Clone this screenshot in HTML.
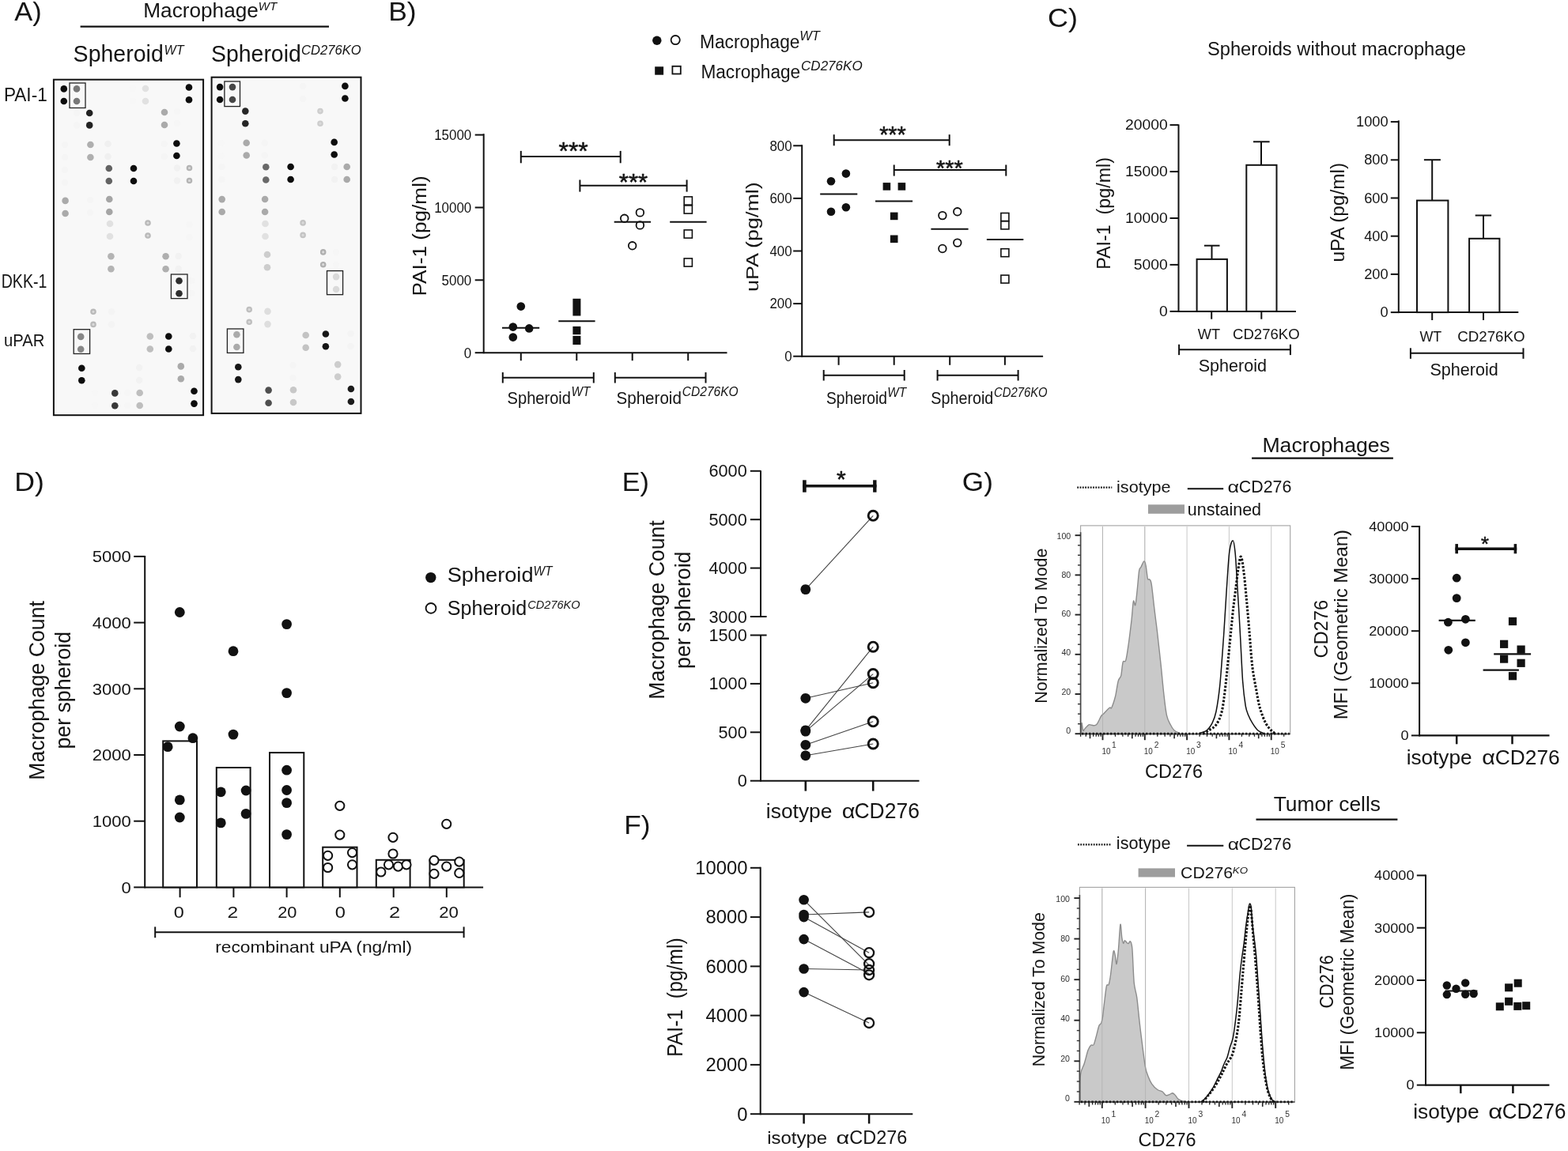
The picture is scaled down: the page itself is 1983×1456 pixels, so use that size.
<!DOCTYPE html>
<html><head><meta charset="utf-8"><title>Figure</title>
<style>
html,body{margin:0;padding:0;background:#fff;width:1983px;height:1456px;overflow:hidden}
svg{display:block}
text{font-family:'Liberation Sans', Arial, sans-serif}
</style></head>
<body>
<svg width="1983" height="1456" viewBox="0 0 1983 1456">
<defs><filter id="soft" x="-5%" y="-5%" width="110%" height="110%"><feGaussianBlur stdDeviation="0.7"/></filter></defs>
<rect width="1983" height="1456" fill="#fff"/>
<text x="18.23" y="26.00" font-size="33.5" textLength="34.40" lengthAdjust="spacingAndGlyphs" fill="#141414">A)</text>
<text x="181.25" y="21.60" font-size="25.7" textLength="145.61" lengthAdjust="spacingAndGlyphs" fill="#141414">Macrophage</text>
<text x="326.80" y="12.50" font-size="14.5" font-style="italic" textLength="23.41" lengthAdjust="spacingAndGlyphs" fill="#141414">WT</text>
<line x1="101.6" y1="33.6" x2="416.0" y2="33.6" stroke="#111" stroke-width="2.3"/>
<text x="92.61" y="78.10" font-size="29.2" textLength="114.13" lengthAdjust="spacingAndGlyphs" fill="#141414">Spheroid</text>
<text x="207.51" y="68.80" font-size="16.5" font-style="italic" textLength="25.04" lengthAdjust="spacingAndGlyphs" fill="#141414">WT</text>
<text x="267.01" y="78.10" font-size="29.2" textLength="113.82" lengthAdjust="spacingAndGlyphs" fill="#141414">Spheroid</text>
<text x="381.09" y="69.00" font-size="16.9" font-style="italic" textLength="75.58" lengthAdjust="spacingAndGlyphs" fill="#141414">CD276KO</text>
<text x="4.90" y="128.40" font-size="23.5" textLength="54.87" lengthAdjust="spacingAndGlyphs" fill="#141414">PAI-1</text>
<text x="1.69" y="363.60" font-size="23" textLength="57.66" lengthAdjust="spacingAndGlyphs" fill="#141414">DKK-1</text>
<text x="4.92" y="437.60" font-size="22.8" textLength="51.39" lengthAdjust="spacingAndGlyphs" fill="#141414">uPAR</text>
<rect x="67.9" y="100.7" width="189.2" height="424.5" fill="#f8f8f8" stroke="#111" stroke-width="2"/>
<rect x="267.6" y="97.7" width="188.9" height="425.2" fill="#f8f8f8" stroke="#111" stroke-width="2"/>
<g filter="url(#soft)">
<circle cx="80.8" cy="112.4" r="4.3" fill="rgb(10,10,10)"/>
<circle cx="80.8" cy="128" r="4.3" fill="rgb(10,10,10)"/>
<circle cx="97" cy="112.4" r="4.3" fill="rgb(120,120,120)"/>
<circle cx="97" cy="128" r="4.3" fill="rgb(120,120,120)"/>
<circle cx="97" cy="143" r="4.3" fill="rgb(245,245,245)"/>
<circle cx="97" cy="158.4" r="4.3" fill="rgb(245,245,245)"/>
<circle cx="113.2" cy="143" r="4.3" fill="rgb(35,35,35)"/>
<circle cx="113.2" cy="158.4" r="4.3" fill="rgb(35,35,35)"/>
<circle cx="168" cy="112" r="4.3" fill="rgb(247,247,247)"/>
<circle cx="168" cy="128" r="4.3" fill="rgb(247,247,247)"/>
<circle cx="184" cy="112" r="4.3" fill="rgb(225,225,225)"/>
<circle cx="184" cy="128" r="4.3" fill="rgb(225,225,225)"/>
<circle cx="239" cy="110.5" r="4.3" fill="rgb(8,8,8)"/>
<circle cx="239" cy="126.3" r="4.3" fill="rgb(8,8,8)"/>
<circle cx="208" cy="142" r="4.3" fill="rgb(170,170,170)"/>
<circle cx="208" cy="158" r="4.3" fill="rgb(170,170,170)"/>
<circle cx="224" cy="141" r="4.3" fill="rgb(246,246,246)"/>
<circle cx="224" cy="156" r="4.3" fill="rgb(246,246,246)"/>
<circle cx="82" cy="183" r="4.3" fill="rgb(245,245,245)"/>
<circle cx="82" cy="199" r="4.3" fill="rgb(245,245,245)"/>
<circle cx="114.4" cy="183" r="4.3" fill="rgb(175,175,175)"/>
<circle cx="114.4" cy="199" r="4.3" fill="rgb(175,175,175)"/>
<circle cx="136.5" cy="182" r="4.3" fill="rgb(240,240,240)"/>
<circle cx="136.5" cy="198" r="4.3" fill="rgb(240,240,240)"/>
<circle cx="207.7" cy="182" r="4.3" fill="rgb(245,245,245)"/>
<circle cx="207.7" cy="198" r="4.3" fill="rgb(245,245,245)"/>
<circle cx="223.4" cy="181.5" r="4.3" fill="rgb(10,10,10)"/>
<circle cx="223.4" cy="197" r="4.3" fill="rgb(10,10,10)"/>
<circle cx="82" cy="215" r="4.3" fill="rgb(245,245,245)"/>
<circle cx="82" cy="231" r="4.3" fill="rgb(245,245,245)"/>
<circle cx="137.8" cy="213" r="4.3" fill="rgb(100,100,100)"/>
<circle cx="137.8" cy="229" r="4.3" fill="rgb(100,100,100)"/>
<circle cx="169" cy="213" r="4.3" fill="rgb(8,8,8)"/>
<circle cx="169" cy="229" r="4.3" fill="rgb(8,8,8)"/>
<circle cx="224" cy="212.5" r="4.3" fill="rgb(241,241,241)"/>
<circle cx="224" cy="228.5" r="4.3" fill="rgb(241,241,241)"/>
<circle cx="239.5" cy="212.5" r="2.7" fill="#dadada" stroke="rgb(180,180,180)" stroke-width="2.2"/>
<circle cx="239.5" cy="228.5" r="2.7" fill="#dadada" stroke="rgb(180,180,180)" stroke-width="2.2"/>
<circle cx="82.6" cy="253.9" r="4.3" fill="rgb(170,170,170)"/>
<circle cx="82.6" cy="270" r="4.3" fill="rgb(170,170,170)"/>
<circle cx="114" cy="253" r="4.3" fill="rgb(245,245,245)"/>
<circle cx="114" cy="269" r="4.3" fill="rgb(245,245,245)"/>
<circle cx="138.3" cy="252" r="4.3" fill="rgb(165,165,165)"/>
<circle cx="138.3" cy="268" r="4.3" fill="rgb(165,165,165)"/>
<circle cx="139" cy="283" r="4.3" fill="rgb(225,225,225)"/>
<circle cx="139" cy="299" r="4.3" fill="rgb(225,225,225)"/>
<circle cx="187" cy="282" r="2.7" fill="#dadada" stroke="rgb(185,185,185)" stroke-width="2.2"/>
<circle cx="187" cy="298" r="2.7" fill="#dadada" stroke="rgb(185,185,185)" stroke-width="2.2"/>
<circle cx="239.5" cy="284" r="4.3" fill="rgb(246,246,246)"/>
<circle cx="239.5" cy="300" r="4.3" fill="rgb(246,246,246)"/>
<circle cx="140.4" cy="324.3" r="4.3" fill="rgb(180,180,180)"/>
<circle cx="140.4" cy="340.2" r="4.3" fill="rgb(180,180,180)"/>
<circle cx="209.6" cy="324.3" r="4.3" fill="rgb(175,175,175)"/>
<circle cx="209.6" cy="340.2" r="4.3" fill="rgb(175,175,175)"/>
<circle cx="225.7" cy="324" r="4.3" fill="rgb(242,242,242)"/>
<circle cx="225.7" cy="340" r="4.3" fill="rgb(242,242,242)"/>
<circle cx="226.5" cy="355.2" r="4.3" fill="rgb(45,45,45)"/>
<circle cx="226.5" cy="371.2" r="4.3" fill="rgb(45,45,45)"/>
<circle cx="242.4" cy="355" r="4.3" fill="rgb(246,246,246)"/>
<circle cx="242.4" cy="371" r="4.3" fill="rgb(246,246,246)"/>
<circle cx="118" cy="394.3" r="2.7" fill="#dadada" stroke="rgb(185,185,185)" stroke-width="2.2"/>
<circle cx="118" cy="410.4" r="2.7" fill="#dadada" stroke="rgb(185,185,185)" stroke-width="2.2"/>
<circle cx="141" cy="394.3" r="4.3" fill="rgb(244,244,244)"/>
<circle cx="141" cy="410.4" r="4.3" fill="rgb(244,244,244)"/>
<circle cx="102.2" cy="425.9" r="4.3" fill="rgb(135,135,135)"/>
<circle cx="102.2" cy="441.8" r="4.3" fill="rgb(135,135,135)"/>
<circle cx="189.8" cy="425.5" r="4.3" fill="rgb(190,190,190)"/>
<circle cx="189.8" cy="441.5" r="4.3" fill="rgb(190,190,190)"/>
<circle cx="213.3" cy="425.5" r="4.3" fill="rgb(12,12,12)"/>
<circle cx="213.3" cy="441.5" r="4.3" fill="rgb(12,12,12)"/>
<circle cx="244" cy="425" r="4.3" fill="rgb(242,242,242)"/>
<circle cx="244" cy="441" r="4.3" fill="rgb(242,242,242)"/>
<circle cx="103.3" cy="465.7" r="4.3" fill="rgb(10,10,10)"/>
<circle cx="103.3" cy="481.2" r="4.3" fill="rgb(10,10,10)"/>
<circle cx="228.8" cy="463.4" r="4.3" fill="rgb(170,170,170)"/>
<circle cx="228.8" cy="479.3" r="4.3" fill="rgb(170,170,170)"/>
<circle cx="176.2" cy="465" r="4.3" fill="rgb(242,242,242)"/>
<circle cx="176.2" cy="481" r="4.3" fill="rgb(242,242,242)"/>
<circle cx="145.3" cy="497.4" r="4.3" fill="rgb(55,55,55)"/>
<circle cx="145.3" cy="513.3" r="4.3" fill="rgb(55,55,55)"/>
<circle cx="176.7" cy="497" r="4.3" fill="rgb(190,190,190)"/>
<circle cx="176.7" cy="513" r="4.3" fill="rgb(190,190,190)"/>
<circle cx="245.5" cy="494.8" r="4.3" fill="rgb(8,8,8)"/>
<circle cx="245.5" cy="510.6" r="4.3" fill="rgb(8,8,8)"/>
<circle cx="161.2" cy="497" r="4.3" fill="rgb(246,246,246)"/>
<circle cx="161.2" cy="513" r="4.3" fill="rgb(246,246,246)"/>
<circle cx="120" cy="497" r="4.3" fill="rgb(247,247,247)"/>
<circle cx="120" cy="513" r="4.3" fill="rgb(247,247,247)"/>
<circle cx="278.1" cy="110.1" r="4.3" fill="rgb(10,10,10)"/>
<circle cx="278.1" cy="126" r="4.3" fill="rgb(10,10,10)"/>
<circle cx="294" cy="110.1" r="4.3" fill="rgb(70,70,70)"/>
<circle cx="294" cy="126" r="4.3" fill="rgb(70,70,70)"/>
<circle cx="310.3" cy="140.6" r="4.3" fill="rgb(40,40,40)"/>
<circle cx="310.3" cy="156.2" r="4.3" fill="rgb(40,40,40)"/>
<circle cx="383.1" cy="109" r="4.3" fill="rgb(245,245,245)"/>
<circle cx="383.1" cy="125" r="4.3" fill="rgb(245,245,245)"/>
<circle cx="436.4" cy="108.9" r="4.3" fill="rgb(10,10,10)"/>
<circle cx="436.4" cy="124.5" r="4.3" fill="rgb(10,10,10)"/>
<circle cx="405" cy="140.6" r="2.7" fill="#dadada" stroke="rgb(205,205,205)" stroke-width="2.2"/>
<circle cx="405" cy="156.2" r="2.7" fill="#dadada" stroke="rgb(205,205,205)" stroke-width="2.2"/>
<circle cx="311.7" cy="180.8" r="4.3" fill="rgb(170,170,170)"/>
<circle cx="311.7" cy="196.5" r="4.3" fill="rgb(170,170,170)"/>
<circle cx="334.8" cy="180.8" r="4.3" fill="rgb(245,245,245)"/>
<circle cx="334.8" cy="196.5" r="4.3" fill="rgb(245,245,245)"/>
<circle cx="279.6" cy="181" r="4.3" fill="rgb(247,247,247)"/>
<circle cx="279.6" cy="197" r="4.3" fill="rgb(247,247,247)"/>
<circle cx="422.7" cy="179.9" r="4.3" fill="rgb(10,10,10)"/>
<circle cx="422.7" cy="195.5" r="4.3" fill="rgb(10,10,10)"/>
<circle cx="336.3" cy="211.3" r="4.3" fill="rgb(105,105,105)"/>
<circle cx="336.3" cy="227.5" r="4.3" fill="rgb(105,105,105)"/>
<circle cx="367.6" cy="211" r="4.3" fill="rgb(8,8,8)"/>
<circle cx="367.6" cy="227" r="4.3" fill="rgb(8,8,8)"/>
<circle cx="423.1" cy="211" r="4.3" fill="rgb(242,242,242)"/>
<circle cx="423.1" cy="227" r="4.3" fill="rgb(242,242,242)"/>
<circle cx="438.7" cy="211" r="4.3" fill="rgb(170,170,170)"/>
<circle cx="438.7" cy="227" r="4.3" fill="rgb(170,170,170)"/>
<circle cx="280.4" cy="211" r="4.3" fill="rgb(245,245,245)"/>
<circle cx="280.4" cy="227" r="4.3" fill="rgb(245,245,245)"/>
<circle cx="280.7" cy="252.1" r="4.3" fill="rgb(170,170,170)"/>
<circle cx="280.7" cy="268" r="4.3" fill="rgb(170,170,170)"/>
<circle cx="335.1" cy="252" r="4.3" fill="rgb(170,170,170)"/>
<circle cx="335.1" cy="268" r="4.3" fill="rgb(170,170,170)"/>
<circle cx="335.5" cy="283" r="4.3" fill="rgb(225,225,225)"/>
<circle cx="335.5" cy="299" r="4.3" fill="rgb(225,225,225)"/>
<circle cx="383.1" cy="281.9" r="2.7" fill="#dadada" stroke="rgb(195,195,195)" stroke-width="2.2"/>
<circle cx="383.1" cy="297.4" r="2.7" fill="#dadada" stroke="rgb(195,195,195)" stroke-width="2.2"/>
<circle cx="338" cy="322" r="4.3" fill="rgb(205,205,205)"/>
<circle cx="338" cy="338.2" r="4.3" fill="rgb(205,205,205)"/>
<circle cx="408.7" cy="318.9" r="2.7" fill="#dadada" stroke="rgb(175,175,175)" stroke-width="2.2"/>
<circle cx="408.7" cy="334.7" r="2.7" fill="#dadada" stroke="rgb(175,175,175)" stroke-width="2.2"/>
<circle cx="425" cy="319" r="4.3" fill="rgb(246,246,246)"/>
<circle cx="425" cy="335" r="4.3" fill="rgb(246,246,246)"/>
<circle cx="425.1" cy="350.1" r="4.3" fill="rgb(218,218,218)"/>
<circle cx="425.1" cy="366" r="4.3" fill="rgb(218,218,218)"/>
<circle cx="315.2" cy="391.6" r="2.7" fill="#dadada" stroke="rgb(190,190,190)" stroke-width="2.2"/>
<circle cx="315.2" cy="407.3" r="2.7" fill="#dadada" stroke="rgb(190,190,190)" stroke-width="2.2"/>
<circle cx="338.5" cy="393.9" r="4.3" fill="rgb(222,222,222)"/>
<circle cx="338.5" cy="410.1" r="4.3" fill="rgb(222,222,222)"/>
<circle cx="299.4" cy="423.2" r="4.3" fill="rgb(170,170,170)"/>
<circle cx="299.4" cy="439" r="4.3" fill="rgb(170,170,170)"/>
<circle cx="386.7" cy="424" r="4.3" fill="rgb(195,195,195)"/>
<circle cx="386.7" cy="439.8" r="4.3" fill="rgb(195,195,195)"/>
<circle cx="411.9" cy="422.5" r="4.3" fill="rgb(25,25,25)"/>
<circle cx="411.9" cy="438.2" r="4.3" fill="rgb(25,25,25)"/>
<circle cx="443.5" cy="422" r="4.3" fill="rgb(244,244,244)"/>
<circle cx="443.5" cy="438" r="4.3" fill="rgb(244,244,244)"/>
<circle cx="301.3" cy="464.2" r="4.3" fill="rgb(25,25,25)"/>
<circle cx="301.3" cy="480.1" r="4.3" fill="rgb(25,25,25)"/>
<circle cx="370.5" cy="462" r="4.3" fill="rgb(245,245,245)"/>
<circle cx="370.5" cy="478" r="4.3" fill="rgb(245,245,245)"/>
<circle cx="427.2" cy="461.1" r="4.3" fill="rgb(205,205,205)"/>
<circle cx="427.2" cy="476.6" r="4.3" fill="rgb(205,205,205)"/>
<circle cx="339.6" cy="493.6" r="4.3" fill="rgb(80,80,80)"/>
<circle cx="339.6" cy="509.8" r="4.3" fill="rgb(80,80,80)"/>
<circle cx="371" cy="493.3" r="4.3" fill="rgb(200,200,200)"/>
<circle cx="371" cy="509" r="4.3" fill="rgb(200,200,200)"/>
<circle cx="443.9" cy="492" r="4.3" fill="rgb(30,30,30)"/>
<circle cx="443.9" cy="508" r="4.3" fill="rgb(30,30,30)"/>
</g>
<rect x="88.0" y="105.0" width="20.0" height="31.5" fill="none" stroke="#222" stroke-width="1.3"/>
<rect x="216.4" y="347.0" width="20.6" height="30.6" fill="none" stroke="#222" stroke-width="1.3"/>
<rect x="93.2" y="416.7" width="20.4" height="30.8" fill="none" stroke="#222" stroke-width="1.3"/>
<rect x="283.9" y="103.0" width="19.6" height="31.6" fill="none" stroke="#222" stroke-width="1.3"/>
<rect x="413.5" y="342.6" width="20.1" height="30.1" fill="none" stroke="#222" stroke-width="1.3"/>
<rect x="287.4" y="416.0" width="20.5" height="30.4" fill="none" stroke="#222" stroke-width="1.3"/>
<text x="491.20" y="26.00" font-size="33.5" textLength="35.40" lengthAdjust="spacingAndGlyphs" fill="#141414">B)</text>
<circle cx="830.8" cy="51.3" r="5.7" fill="#111"/>
<circle cx="854.2" cy="50.6" r="5.6" fill="#fff" stroke="#111" stroke-width="1.8"/>
<rect x="828.2" y="84.3" width="10.9" height="10.4" fill="#111"/>
<rect x="850.4" y="83.8" width="10.4" height="9.7" fill="#fff" stroke="#111" stroke-width="1.8"/>
<text x="885.03" y="60.60" font-size="23.5" textLength="126.48" lengthAdjust="spacingAndGlyphs" fill="#141414">Macrophage</text>
<text x="1011.17" y="50.80" font-size="16.5" font-style="italic" textLength="25.65" lengthAdjust="spacingAndGlyphs" fill="#141414">WT</text>
<text x="886.44" y="99.00" font-size="23.5" textLength="125.76" lengthAdjust="spacingAndGlyphs" fill="#141414">Macrophage</text>
<text x="1013.06" y="89.20" font-size="16.3" font-style="italic" textLength="77.61" lengthAdjust="spacingAndGlyphs" fill="#141414">CD276KO</text>
<line x1="611.7" y1="169.3" x2="611.7" y2="447.2" stroke="#111" stroke-width="2"/>
<line x1="600.7" y1="446.2" x2="611.7" y2="446.2" stroke="#111" stroke-width="2"/>
<text x="586.85" y="452.55" font-size="18.2" textLength="9.41" lengthAdjust="spacingAndGlyphs" fill="#141414">0</text>
<line x1="600.7" y1="354.3" x2="611.7" y2="354.3" stroke="#111" stroke-width="2"/>
<text x="558.61" y="360.70" font-size="18.2" textLength="37.65" lengthAdjust="spacingAndGlyphs" fill="#141414">5000</text>
<line x1="600.7" y1="262.5" x2="611.7" y2="262.5" stroke="#111" stroke-width="2"/>
<text x="549.19" y="268.85" font-size="18.2" textLength="47.07" lengthAdjust="spacingAndGlyphs" fill="#141414">10000</text>
<line x1="600.7" y1="170.6" x2="611.7" y2="170.6" stroke="#111" stroke-width="2"/>
<text x="549.19" y="177.00" font-size="18.2" textLength="47.07" lengthAdjust="spacingAndGlyphs" fill="#141414">15000</text>
<line x1="611.7" y1="446.2" x2="919.5" y2="446.2" stroke="#111" stroke-width="2"/>
<line x1="658.8" y1="446.2" x2="658.8" y2="456.2" stroke="#111" stroke-width="2"/>
<line x1="729.3" y1="446.2" x2="729.3" y2="456.2" stroke="#111" stroke-width="2"/>
<line x1="799.7" y1="446.2" x2="799.7" y2="456.2" stroke="#111" stroke-width="2"/>
<line x1="870.2" y1="446.2" x2="870.2" y2="456.2" stroke="#111" stroke-width="2"/>
<line x1="635.8" y1="477.7" x2="750.8" y2="477.7" stroke="#111" stroke-width="2"/>
<line x1="635.8" y1="471.0" x2="635.8" y2="484.5" stroke="#111" stroke-width="2"/>
<line x1="750.8" y1="471.0" x2="750.8" y2="484.5" stroke="#111" stroke-width="2"/>
<line x1="777.8" y1="477.7" x2="892.5" y2="477.7" stroke="#111" stroke-width="2"/>
<line x1="777.8" y1="471.0" x2="777.8" y2="484.5" stroke="#111" stroke-width="2"/>
<line x1="892.5" y1="471.0" x2="892.5" y2="484.5" stroke="#111" stroke-width="2"/>
<text x="641.59" y="510.50" font-size="22.7" textLength="80.41" lengthAdjust="spacingAndGlyphs" fill="#141414">Spheroid</text>
<text x="722.48" y="501.10" font-size="16.5" font-style="italic" textLength="23.82" lengthAdjust="spacingAndGlyphs" fill="#141414">WT</text>
<text x="779.46" y="510.50" font-size="22.7" textLength="82.46" lengthAdjust="spacingAndGlyphs" fill="#141414">Spheroid</text>
<text x="862.84" y="501.10" font-size="16.5" font-style="italic" textLength="70.89" lengthAdjust="spacingAndGlyphs" fill="#141414">CD276KO</text>
<line x1="658.8" y1="198.1" x2="784.7" y2="198.1" stroke="#111" stroke-width="2"/>
<line x1="658.8" y1="190.9" x2="658.8" y2="206.3" stroke="#111" stroke-width="2"/>
<line x1="784.7" y1="190.9" x2="784.7" y2="206.3" stroke="#111" stroke-width="2"/>
<text x="706.48" y="202.23" font-size="31" stroke="#141414" stroke-width="0.55" stroke-linejoin="round" textLength="37.31" lengthAdjust="spacingAndGlyphs" fill="#141414">***</text>
<line x1="733.4" y1="234.8" x2="868.6" y2="234.8" stroke="#111" stroke-width="2"/>
<line x1="733.4" y1="227.5" x2="733.4" y2="242.6" stroke="#111" stroke-width="2"/>
<line x1="868.6" y1="227.5" x2="868.6" y2="242.6" stroke="#111" stroke-width="2"/>
<text x="782.80" y="239.85" font-size="29" stroke="#141414" stroke-width="0.55" stroke-linejoin="round" textLength="36.39" lengthAdjust="spacingAndGlyphs" fill="#141414">***</text>
<circle cx="658.8" cy="387.6" r="5.3" fill="#111"/>
<circle cx="648.8" cy="413.6" r="5.3" fill="#111"/>
<circle cx="669.2" cy="415.4" r="5.3" fill="#111"/>
<circle cx="648.8" cy="426.6" r="5.3" fill="#111"/>
<line x1="635.0" y1="414.7" x2="682.2" y2="414.7" stroke="#111" stroke-width="2"/>
<rect x="724.4" y="377.8" width="10.0" height="21.7" fill="#111"/>
<rect x="724.4" y="412.9" width="10.0" height="10.3" fill="#111"/>
<rect x="724.4" y="424.9" width="10.0" height="11.1" fill="#111"/>
<line x1="706.3" y1="406.2" x2="752.6" y2="406.2" stroke="#111" stroke-width="2"/>
<circle cx="789.7" cy="276.3" r="4.8" fill="#fff" stroke="#111" stroke-width="1.8"/>
<circle cx="809.4" cy="268.9" r="4.8" fill="#fff" stroke="#111" stroke-width="1.8"/>
<circle cx="809.4" cy="284.9" r="4.8" fill="#fff" stroke="#111" stroke-width="1.8"/>
<circle cx="799.7" cy="310.8" r="4.8" fill="#fff" stroke="#111" stroke-width="1.8"/>
<line x1="776.7" y1="280.8" x2="823.1" y2="280.8" stroke="#111" stroke-width="2"/>
<rect x="865.2" y="248.9" width="10.2" height="10.2" fill="#fff" stroke="#111" stroke-width="1.6"/>
<rect x="865.2" y="259.9" width="10.2" height="10.2" fill="#fff" stroke="#111" stroke-width="1.6"/>
<rect x="865.2" y="290.9" width="10.2" height="10.2" fill="#fff" stroke="#111" stroke-width="1.6"/>
<rect x="865.2" y="326.9" width="10.2" height="10.2" fill="#fff" stroke="#111" stroke-width="1.6"/>
<line x1="847.2" y1="280.8" x2="893.6" y2="280.8" stroke="#111" stroke-width="2"/>
<text transform="translate(538.80,374.52) rotate(-90)" x="0" y="0" font-size="23.3" textLength="152.22" lengthAdjust="spacingAndGlyphs" fill="#141414">PAI-1 (pg/ml)</text>
<line x1="1014.2" y1="183.3" x2="1014.2" y2="451.7" stroke="#111" stroke-width="2"/>
<line x1="1003.2" y1="450.7" x2="1014.2" y2="450.7" stroke="#111" stroke-width="2"/>
<text x="992.25" y="457.05" font-size="18.2" textLength="9.41" lengthAdjust="spacingAndGlyphs" fill="#141414">0</text>
<line x1="1003.2" y1="384.1" x2="1014.2" y2="384.1" stroke="#111" stroke-width="2"/>
<text x="973.42" y="390.45" font-size="18.2" textLength="28.24" lengthAdjust="spacingAndGlyphs" fill="#141414">200</text>
<line x1="1003.2" y1="317.5" x2="1014.2" y2="317.5" stroke="#111" stroke-width="2"/>
<text x="973.42" y="323.85" font-size="18.2" textLength="28.24" lengthAdjust="spacingAndGlyphs" fill="#141414">400</text>
<line x1="1003.2" y1="250.9" x2="1014.2" y2="250.9" stroke="#111" stroke-width="2"/>
<text x="973.42" y="257.25" font-size="18.2" textLength="28.24" lengthAdjust="spacingAndGlyphs" fill="#141414">600</text>
<line x1="1003.2" y1="184.3" x2="1014.2" y2="184.3" stroke="#111" stroke-width="2"/>
<text x="973.42" y="190.65" font-size="18.2" textLength="28.24" lengthAdjust="spacingAndGlyphs" fill="#141414">800</text>
<line x1="1014.2" y1="450.7" x2="1319.1" y2="450.7" stroke="#111" stroke-width="2"/>
<line x1="1060.6" y1="450.7" x2="1060.6" y2="461.8" stroke="#111" stroke-width="2"/>
<line x1="1130.7" y1="450.7" x2="1130.7" y2="461.8" stroke="#111" stroke-width="2"/>
<line x1="1201.2" y1="450.7" x2="1201.2" y2="461.8" stroke="#111" stroke-width="2"/>
<line x1="1270.9" y1="450.7" x2="1270.9" y2="461.8" stroke="#111" stroke-width="2"/>
<line x1="1041.7" y1="474.8" x2="1143.7" y2="474.8" stroke="#111" stroke-width="2"/>
<line x1="1041.7" y1="468.0" x2="1041.7" y2="481.5" stroke="#111" stroke-width="2"/>
<line x1="1143.7" y1="468.0" x2="1143.7" y2="481.5" stroke="#111" stroke-width="2"/>
<line x1="1185.6" y1="474.8" x2="1287.6" y2="474.8" stroke="#111" stroke-width="2"/>
<line x1="1185.6" y1="468.0" x2="1185.6" y2="481.5" stroke="#111" stroke-width="2"/>
<line x1="1287.6" y1="468.0" x2="1287.6" y2="481.5" stroke="#111" stroke-width="2"/>
<text x="1045.03" y="510.50" font-size="22.7" textLength="76.91" lengthAdjust="spacingAndGlyphs" fill="#141414">Spheroid</text>
<text x="1122.18" y="501.60" font-size="16.5" font-style="italic" textLength="23.82" lengthAdjust="spacingAndGlyphs" fill="#141414">WT</text>
<text x="1177.30" y="510.50" font-size="22.7" textLength="79.07" lengthAdjust="spacingAndGlyphs" fill="#141414">Spheroid</text>
<text x="1257.08" y="501.60" font-size="16.5" font-style="italic" textLength="67.53" lengthAdjust="spacingAndGlyphs" fill="#141414">CD276KO</text>
<line x1="1054.7" y1="177.2" x2="1200.7" y2="177.2" stroke="#111" stroke-width="2"/>
<line x1="1054.7" y1="170.2" x2="1054.7" y2="184.3" stroke="#111" stroke-width="2"/>
<line x1="1200.7" y1="170.2" x2="1200.7" y2="184.3" stroke="#111" stroke-width="2"/>
<text x="1112.13" y="180.05" font-size="29" stroke="#141414" stroke-width="0.55" stroke-linejoin="round" textLength="33.72" lengthAdjust="spacingAndGlyphs" fill="#141414">***</text>
<line x1="1130.7" y1="215.0" x2="1272.3" y2="215.0" stroke="#111" stroke-width="2"/>
<line x1="1130.7" y1="208.5" x2="1130.7" y2="222.6" stroke="#111" stroke-width="2"/>
<line x1="1272.3" y1="208.5" x2="1272.3" y2="222.6" stroke="#111" stroke-width="2"/>
<text x="1184.13" y="222.06" font-size="28" stroke="#141414" stroke-width="0.55" stroke-linejoin="round" textLength="33.72" lengthAdjust="spacingAndGlyphs" fill="#141414">***</text>
<circle cx="1051.0" cy="229.2" r="5.3" fill="#111"/>
<circle cx="1069.9" cy="219.6" r="5.3" fill="#111"/>
<circle cx="1051.0" cy="267.8" r="5.3" fill="#111"/>
<circle cx="1069.9" cy="262.2" r="5.3" fill="#111"/>
<line x1="1037.2" y1="245.5" x2="1084.3" y2="245.5" stroke="#111" stroke-width="2"/>
<rect x="1116.6" y="231.1" width="9.6" height="9.6" fill="#111"/>
<rect x="1135.6" y="231.1" width="9.6" height="9.6" fill="#111"/>
<rect x="1125.9" y="268.6" width="9.6" height="9.6" fill="#111"/>
<rect x="1125.9" y="297.5" width="9.6" height="9.6" fill="#111"/>
<line x1="1107.0" y1="254.5" x2="1154.1" y2="254.5" stroke="#111" stroke-width="2"/>
<circle cx="1191.9" cy="272.6" r="4.8" fill="#fff" stroke="#111" stroke-width="1.8"/>
<circle cx="1210.8" cy="267.8" r="4.8" fill="#fff" stroke="#111" stroke-width="1.8"/>
<circle cx="1191.9" cy="314.5" r="4.8" fill="#fff" stroke="#111" stroke-width="1.8"/>
<circle cx="1210.8" cy="307.1" r="4.8" fill="#fff" stroke="#111" stroke-width="1.8"/>
<line x1="1177.4" y1="289.7" x2="1224.6" y2="289.7" stroke="#111" stroke-width="2"/>
<rect x="1265.9" y="269.5" width="10.0" height="10.0" fill="#fff" stroke="#111" stroke-width="1.6"/>
<rect x="1265.9" y="279.9" width="10.0" height="10.0" fill="#fff" stroke="#111" stroke-width="1.6"/>
<rect x="1265.9" y="314.7" width="10.0" height="10.0" fill="#fff" stroke="#111" stroke-width="1.6"/>
<rect x="1265.9" y="348.1" width="10.0" height="10.0" fill="#fff" stroke="#111" stroke-width="1.6"/>
<line x1="1247.9" y1="303.0" x2="1294.3" y2="303.0" stroke="#111" stroke-width="2"/>
<text transform="translate(959.30,368.91) rotate(-90)" x="0" y="0" font-size="22" textLength="138.74" lengthAdjust="spacingAndGlyphs" fill="#141414">uPA (pg/ml)</text>
<text x="1325.07" y="33.90" font-size="33" textLength="37.96" lengthAdjust="spacingAndGlyphs" fill="#141414">C)</text>
<text x="1526.92" y="69.80" font-size="23.5" textLength="326.93" lengthAdjust="spacingAndGlyphs" fill="#141414">Spheroids without macrophage</text>
<line x1="1490.5" y1="157.4" x2="1490.5" y2="394.9" stroke="#111" stroke-width="2"/>
<line x1="1479.5" y1="393.9" x2="1490.5" y2="393.9" stroke="#111" stroke-width="2"/>
<text x="1465.99" y="400.04" font-size="17.6" textLength="10.77" lengthAdjust="spacingAndGlyphs" fill="#141414">0</text>
<line x1="1479.5" y1="334.9" x2="1490.5" y2="334.9" stroke="#111" stroke-width="2"/>
<text x="1433.69" y="341.09" font-size="17.6" textLength="43.07" lengthAdjust="spacingAndGlyphs" fill="#141414">5000</text>
<line x1="1479.5" y1="276.0" x2="1490.5" y2="276.0" stroke="#111" stroke-width="2"/>
<text x="1422.92" y="282.14" font-size="17.6" textLength="53.84" lengthAdjust="spacingAndGlyphs" fill="#141414">10000</text>
<line x1="1479.5" y1="217.1" x2="1490.5" y2="217.1" stroke="#111" stroke-width="2"/>
<text x="1422.92" y="223.19" font-size="17.6" textLength="53.84" lengthAdjust="spacingAndGlyphs" fill="#141414">15000</text>
<line x1="1479.5" y1="158.1" x2="1490.5" y2="158.1" stroke="#111" stroke-width="2"/>
<text x="1422.92" y="164.24" font-size="17.6" textLength="53.84" lengthAdjust="spacingAndGlyphs" fill="#141414">20000</text>
<line x1="1490.5" y1="393.9" x2="1638.9" y2="393.9" stroke="#111" stroke-width="2"/>
<rect x="1513.6" y="327.9" width="38.3" height="66.0" fill="#fff" stroke="#111" stroke-width="2"/>
<rect x="1576.3" y="208.8" width="38.2" height="185.1" fill="#fff" stroke="#111" stroke-width="2"/>
<line x1="1532.5" y1="327.9" x2="1532.5" y2="310.7" stroke="#111" stroke-width="2"/>
<line x1="1522.9" y1="310.7" x2="1542.5" y2="310.7" stroke="#111" stroke-width="2"/>
<line x1="1595.0" y1="208.8" x2="1595.0" y2="179.3" stroke="#111" stroke-width="2"/>
<line x1="1585.0" y1="179.3" x2="1605.6" y2="179.3" stroke="#111" stroke-width="2"/>
<line x1="1532.2" y1="393.9" x2="1532.2" y2="403.7" stroke="#111" stroke-width="2"/>
<line x1="1595.3" y1="393.9" x2="1595.3" y2="403.7" stroke="#111" stroke-width="2"/>
<text x="1514.72" y="428.70" font-size="18.75" textLength="28.30" lengthAdjust="spacingAndGlyphs" fill="#141414">WT</text>
<text x="1559.06" y="428.70" font-size="18.75" textLength="84.63" lengthAdjust="spacingAndGlyphs" fill="#141414">CD276KO</text>
<line x1="1491.1" y1="442.2" x2="1631.9" y2="442.2" stroke="#111" stroke-width="2"/>
<line x1="1491.1" y1="435.7" x2="1491.1" y2="449.1" stroke="#111" stroke-width="2"/>
<line x1="1631.9" y1="435.7" x2="1631.9" y2="449.1" stroke="#111" stroke-width="2"/>
<text x="1515.72" y="470.00" font-size="21.5" textLength="86.27" lengthAdjust="spacingAndGlyphs" fill="#141414">Spheroid</text>
<text transform="translate(1403.60,340.79) rotate(-90)" x="0" y="0" font-size="23.3" textLength="141.81" lengthAdjust="spacingAndGlyphs" fill="#141414">PAI-1  (pg/ml)</text>
<line x1="1768.8" y1="152.4" x2="1768.8" y2="396.1" stroke="#111" stroke-width="2"/>
<line x1="1758.8" y1="395.1" x2="1768.8" y2="395.1" stroke="#111" stroke-width="2"/>
<text x="1745.54" y="401.24" font-size="17.6" textLength="10.18" lengthAdjust="spacingAndGlyphs" fill="#141414">0</text>
<line x1="1758.8" y1="346.9" x2="1768.8" y2="346.9" stroke="#111" stroke-width="2"/>
<text x="1725.18" y="353.04" font-size="17.6" textLength="30.54" lengthAdjust="spacingAndGlyphs" fill="#141414">200</text>
<line x1="1758.8" y1="298.7" x2="1768.8" y2="298.7" stroke="#111" stroke-width="2"/>
<text x="1725.18" y="304.84" font-size="17.6" textLength="30.54" lengthAdjust="spacingAndGlyphs" fill="#141414">400</text>
<line x1="1758.8" y1="250.5" x2="1768.8" y2="250.5" stroke="#111" stroke-width="2"/>
<text x="1725.18" y="256.64" font-size="17.6" textLength="30.54" lengthAdjust="spacingAndGlyphs" fill="#141414">600</text>
<line x1="1758.8" y1="202.3" x2="1768.8" y2="202.3" stroke="#111" stroke-width="2"/>
<text x="1725.18" y="208.44" font-size="17.6" textLength="30.54" lengthAdjust="spacingAndGlyphs" fill="#141414">800</text>
<line x1="1758.8" y1="154.1" x2="1768.8" y2="154.1" stroke="#111" stroke-width="2"/>
<text x="1715.00" y="160.24" font-size="17.6" textLength="40.72" lengthAdjust="spacingAndGlyphs" fill="#141414">1000</text>
<line x1="1768.8" y1="395.1" x2="1920.3" y2="395.1" stroke="#111" stroke-width="2"/>
<rect x="1792.0" y="253.6" width="39.4" height="141.5" fill="#fff" stroke="#111" stroke-width="2"/>
<rect x="1858.1" y="301.8" width="38.3" height="93.3" fill="#fff" stroke="#111" stroke-width="2"/>
<line x1="1811.2" y1="253.6" x2="1811.2" y2="202.2" stroke="#111" stroke-width="2"/>
<line x1="1800.9" y1="202.2" x2="1821.9" y2="202.2" stroke="#111" stroke-width="2"/>
<line x1="1876.0" y1="301.8" x2="1876.0" y2="272.5" stroke="#111" stroke-width="2"/>
<line x1="1865.7" y1="272.5" x2="1886.1" y2="272.5" stroke="#111" stroke-width="2"/>
<line x1="1811.2" y1="395.1" x2="1811.2" y2="405.0" stroke="#111" stroke-width="2"/>
<line x1="1876.0" y1="395.1" x2="1876.0" y2="405.0" stroke="#111" stroke-width="2"/>
<text x="1795.42" y="432.20" font-size="18.75" textLength="27.79" lengthAdjust="spacingAndGlyphs" fill="#141414">WT</text>
<text x="1843.25" y="432.20" font-size="18.75" textLength="85.35" lengthAdjust="spacingAndGlyphs" fill="#141414">CD276KO</text>
<line x1="1783.9" y1="446.8" x2="1926.5" y2="446.8" stroke="#111" stroke-width="2"/>
<line x1="1783.9" y1="440.3" x2="1783.9" y2="453.8" stroke="#111" stroke-width="2"/>
<line x1="1926.5" y1="440.3" x2="1926.5" y2="453.8" stroke="#111" stroke-width="2"/>
<text x="1808.42" y="474.60" font-size="21.5" textLength="86.37" lengthAdjust="spacingAndGlyphs" fill="#141414">Spheroid</text>
<text transform="translate(1699.60,331.55) rotate(-90)" x="0" y="0" font-size="23" textLength="125.62" lengthAdjust="spacingAndGlyphs" fill="#141414">uPA (pg/ml)</text>
<text x="18.37" y="620.80" font-size="33" textLength="37.64" lengthAdjust="spacingAndGlyphs" fill="#141414">D)</text>
<line x1="183.2" y1="703.0" x2="183.2" y2="1123.4" stroke="#111" stroke-width="2"/>
<line x1="169.2" y1="1122.4" x2="183.2" y2="1122.4" stroke="#111" stroke-width="2"/>
<text x="153.50" y="1129.73" font-size="21" textLength="12.26" lengthAdjust="spacingAndGlyphs" fill="#141414">0</text>
<line x1="169.2" y1="1038.7" x2="183.2" y2="1038.7" stroke="#111" stroke-width="2"/>
<text x="116.71" y="1046.03" font-size="21" textLength="49.05" lengthAdjust="spacingAndGlyphs" fill="#141414">1000</text>
<line x1="169.2" y1="955.0" x2="183.2" y2="955.0" stroke="#111" stroke-width="2"/>
<text x="116.71" y="962.33" font-size="21" textLength="49.05" lengthAdjust="spacingAndGlyphs" fill="#141414">2000</text>
<line x1="169.2" y1="871.3" x2="183.2" y2="871.3" stroke="#111" stroke-width="2"/>
<text x="116.71" y="878.63" font-size="21" textLength="49.05" lengthAdjust="spacingAndGlyphs" fill="#141414">3000</text>
<line x1="169.2" y1="787.6" x2="183.2" y2="787.6" stroke="#111" stroke-width="2"/>
<text x="116.71" y="794.93" font-size="21" textLength="49.05" lengthAdjust="spacingAndGlyphs" fill="#141414">4000</text>
<line x1="169.2" y1="703.9" x2="183.2" y2="703.9" stroke="#111" stroke-width="2"/>
<text x="116.71" y="711.23" font-size="21" textLength="49.05" lengthAdjust="spacingAndGlyphs" fill="#141414">5000</text>
<line x1="183.2" y1="1122.4" x2="611.1" y2="1122.4" stroke="#111" stroke-width="2"/>
<rect x="206.2" y="937.4" width="42.8" height="185.0" fill="#fff" stroke="#111" stroke-width="2"/>
<rect x="273.8" y="971.0" width="42.8" height="151.4" fill="#fff" stroke="#111" stroke-width="2"/>
<rect x="341.0" y="952.1" width="43.3" height="170.3" fill="#fff" stroke="#111" stroke-width="2"/>
<rect x="408.2" y="1071.7" width="43.3" height="50.7" fill="#fff" stroke="#111" stroke-width="2"/>
<rect x="475.8" y="1087.8" width="42.8" height="34.6" fill="#fff" stroke="#111" stroke-width="2"/>
<rect x="543.5" y="1087.8" width="43.2" height="34.6" fill="#fff" stroke="#111" stroke-width="2"/>
<line x1="227.6" y1="1122.4" x2="227.6" y2="1135.2" stroke="#111" stroke-width="2"/>
<line x1="295.4" y1="1122.4" x2="295.4" y2="1135.2" stroke="#111" stroke-width="2"/>
<line x1="362.6" y1="1122.4" x2="362.6" y2="1135.2" stroke="#111" stroke-width="2"/>
<line x1="429.8" y1="1122.4" x2="429.8" y2="1135.2" stroke="#111" stroke-width="2"/>
<line x1="497.7" y1="1122.4" x2="497.7" y2="1135.2" stroke="#111" stroke-width="2"/>
<line x1="564.8" y1="1122.4" x2="564.8" y2="1135.2" stroke="#111" stroke-width="2"/>
<text x="219.68" y="1161.20" font-size="21" textLength="13.03" lengthAdjust="spacingAndGlyphs" fill="#141414">0</text>
<text x="287.56" y="1161.20" font-size="21" textLength="13.67" lengthAdjust="spacingAndGlyphs" fill="#141414">2</text>
<text x="351.20" y="1161.20" font-size="21" textLength="24.25" lengthAdjust="spacingAndGlyphs" fill="#141414">20</text>
<text x="423.78" y="1161.20" font-size="21" textLength="13.15" lengthAdjust="spacingAndGlyphs" fill="#141414">0</text>
<text x="492.02" y="1161.20" font-size="21" textLength="14.16" lengthAdjust="spacingAndGlyphs" fill="#141414">2</text>
<text x="555.28" y="1161.20" font-size="21" textLength="24.68" lengthAdjust="spacingAndGlyphs" fill="#141414">20</text>
<line x1="196.2" y1="1179.2" x2="586.6" y2="1179.2" stroke="#111" stroke-width="2"/>
<line x1="196.2" y1="1172.4" x2="196.2" y2="1186.2" stroke="#111" stroke-width="2"/>
<line x1="586.6" y1="1172.4" x2="586.6" y2="1186.2" stroke="#111" stroke-width="2"/>
<text x="272.21" y="1205.30" font-size="20.8" textLength="248.99" lengthAdjust="spacingAndGlyphs" fill="#141414">recombinant uPA (ng/ml)</text>
<circle cx="227.3" cy="774.5" r="6.4" fill="#111"/>
<circle cx="227.3" cy="919.0" r="6.4" fill="#111"/>
<circle cx="243.9" cy="933.7" r="6.4" fill="#111"/>
<circle cx="212.2" cy="944.7" r="6.4" fill="#111"/>
<circle cx="227.3" cy="1011.9" r="6.4" fill="#111"/>
<circle cx="227.3" cy="1034.0" r="6.4" fill="#111"/>
<circle cx="295.0" cy="823.7" r="6.4" fill="#111"/>
<circle cx="295.0" cy="929.1" r="6.4" fill="#111"/>
<circle cx="279.3" cy="1001.8" r="6.4" fill="#111"/>
<circle cx="311.1" cy="1000.0" r="6.4" fill="#111"/>
<circle cx="279.3" cy="1040.9" r="6.4" fill="#111"/>
<circle cx="311.1" cy="1029.4" r="6.4" fill="#111"/>
<circle cx="362.6" cy="789.6" r="6.4" fill="#111"/>
<circle cx="362.6" cy="876.6" r="6.4" fill="#111"/>
<circle cx="362.6" cy="974.2" r="6.4" fill="#111"/>
<circle cx="362.6" cy="999.5" r="6.4" fill="#111"/>
<circle cx="362.6" cy="1015.6" r="6.4" fill="#111"/>
<circle cx="362.6" cy="1055.6" r="6.4" fill="#111"/>
<circle cx="429.8" cy="1019.3" r="5.6" fill="#fff" stroke="#111" stroke-width="2"/>
<circle cx="429.8" cy="1056.1" r="5.6" fill="#fff" stroke="#111" stroke-width="2"/>
<circle cx="414.6" cy="1082.3" r="5.6" fill="#fff" stroke="#111" stroke-width="2"/>
<circle cx="445.5" cy="1078.6" r="5.6" fill="#fff" stroke="#111" stroke-width="2"/>
<circle cx="414.6" cy="1097.5" r="5.6" fill="#fff" stroke="#111" stroke-width="2"/>
<circle cx="445.5" cy="1093.8" r="5.6" fill="#fff" stroke="#111" stroke-width="2"/>
<circle cx="497.0" cy="1059.3" r="5.6" fill="#fff" stroke="#111" stroke-width="2"/>
<circle cx="497.0" cy="1080.0" r="5.6" fill="#fff" stroke="#111" stroke-width="2"/>
<circle cx="481.8" cy="1103.0" r="5.6" fill="#fff" stroke="#111" stroke-width="2"/>
<circle cx="491.5" cy="1093.8" r="5.6" fill="#fff" stroke="#111" stroke-width="2"/>
<circle cx="503.5" cy="1096.1" r="5.6" fill="#fff" stroke="#111" stroke-width="2"/>
<circle cx="514.0" cy="1093.8" r="5.6" fill="#fff" stroke="#111" stroke-width="2"/>
<circle cx="564.7" cy="1042.3" r="5.6" fill="#fff" stroke="#111" stroke-width="2"/>
<circle cx="549.0" cy="1088.3" r="5.6" fill="#fff" stroke="#111" stroke-width="2"/>
<circle cx="580.8" cy="1090.1" r="5.6" fill="#fff" stroke="#111" stroke-width="2"/>
<circle cx="564.7" cy="1096.1" r="5.6" fill="#fff" stroke="#111" stroke-width="2"/>
<circle cx="549.0" cy="1105.3" r="5.6" fill="#fff" stroke="#111" stroke-width="2"/>
<circle cx="580.8" cy="1104.4" r="5.6" fill="#fff" stroke="#111" stroke-width="2"/>
<circle cx="544.8" cy="730.6" r="6.7" fill="#111"/>
<circle cx="545.0" cy="769.4" r="6.4" fill="#fff" stroke="#111" stroke-width="1.9"/>
<text x="565.66" y="736.30" font-size="25.8" textLength="108.89" lengthAdjust="spacingAndGlyphs" fill="#141414">Spheroid</text>
<text x="674.46" y="728.10" font-size="15.8" font-style="italic" textLength="24.02" lengthAdjust="spacingAndGlyphs" fill="#141414">WT</text>
<text x="565.76" y="778.10" font-size="25.8" textLength="100.46" lengthAdjust="spacingAndGlyphs" fill="#141414">Spheroid</text>
<text x="667.19" y="770.20" font-size="15.5" font-style="italic" textLength="66.51" lengthAdjust="spacingAndGlyphs" fill="#141414">CD276KO</text>
<text transform="translate(56.20,986.79) rotate(-90)" x="0" y="0" font-size="27.8" textLength="226.68" lengthAdjust="spacingAndGlyphs" fill="#141414">Macrophage Count</text>
<text transform="translate(89.10,947.62) rotate(-90)" x="0" y="0" font-size="27.5" textLength="148.75" lengthAdjust="spacingAndGlyphs" fill="#141414">per spheroid</text>
<text x="786.80" y="621.10" font-size="33.4" textLength="34.11" lengthAdjust="spacingAndGlyphs" fill="#141414">E)</text>
<line x1="962.0" y1="595.3" x2="962.0" y2="780.0" stroke="#111" stroke-width="2"/>
<line x1="962.0" y1="803.4" x2="962.0" y2="988.7" stroke="#111" stroke-width="2"/>
<line x1="948.8" y1="780.0" x2="969.6" y2="780.0" stroke="#111" stroke-width="2"/>
<text x="896.44" y="787.50" font-size="21.5" textLength="48.31" lengthAdjust="spacingAndGlyphs" fill="#141414">3000</text>
<line x1="948.8" y1="718.6" x2="962.0" y2="718.6" stroke="#111" stroke-width="2"/>
<text x="896.44" y="726.10" font-size="21.5" textLength="48.31" lengthAdjust="spacingAndGlyphs" fill="#141414">4000</text>
<line x1="948.8" y1="657.2" x2="962.0" y2="657.2" stroke="#111" stroke-width="2"/>
<text x="896.44" y="664.70" font-size="21.5" textLength="48.31" lengthAdjust="spacingAndGlyphs" fill="#141414">5000</text>
<line x1="948.8" y1="595.8" x2="962.0" y2="595.8" stroke="#111" stroke-width="2"/>
<text x="896.44" y="603.30" font-size="21.5" textLength="48.31" lengthAdjust="spacingAndGlyphs" fill="#141414">6000</text>
<line x1="948.8" y1="987.7" x2="962.0" y2="987.7" stroke="#111" stroke-width="2"/>
<text x="932.67" y="995.20" font-size="21.5" textLength="12.08" lengthAdjust="spacingAndGlyphs" fill="#141414">0</text>
<line x1="948.8" y1="926.3" x2="962.0" y2="926.3" stroke="#111" stroke-width="2"/>
<text x="908.52" y="933.80" font-size="21.5" textLength="36.23" lengthAdjust="spacingAndGlyphs" fill="#141414">500</text>
<line x1="948.8" y1="864.9" x2="962.0" y2="864.9" stroke="#111" stroke-width="2"/>
<text x="896.44" y="872.40" font-size="21.5" textLength="48.31" lengthAdjust="spacingAndGlyphs" fill="#141414">1000</text>
<line x1="948.8" y1="803.5" x2="969.6" y2="803.5" stroke="#111" stroke-width="2"/>
<text x="896.44" y="811.00" font-size="21.5" textLength="48.31" lengthAdjust="spacingAndGlyphs" fill="#141414">1500</text>
<line x1="962.0" y1="987.7" x2="1162.5" y2="987.7" stroke="#111" stroke-width="2"/>
<line x1="1018.8" y1="987.7" x2="1018.8" y2="1000.6" stroke="#111" stroke-width="2.6"/>
<line x1="1104.2" y1="987.7" x2="1104.2" y2="1000.6" stroke="#111" stroke-width="2.6"/>
<text x="968.83" y="1035.00" font-size="26.2" textLength="83.64" lengthAdjust="spacingAndGlyphs" fill="#141414">isotype</text>
<text x="1064.68" y="1035.00" font-size="25.5" font-family="Liberation Serif, serif" textLength="16.73" lengthAdjust="spacingAndGlyphs" fill="#141414">α</text>
<text x="1080.46" y="1035.00" font-size="28.5" textLength="82.41" lengthAdjust="spacingAndGlyphs" fill="#141414">CD276</text>
<line x1="1015.1" y1="614.8" x2="1108.5" y2="614.8" stroke="#111" stroke-width="3.6"/>
<rect x="1015.1" y="607.3" width="4.6" height="15.4" fill="#111"/>
<rect x="1104.1" y="607.3" width="4.4" height="15.4" fill="#111"/>
<text x="1057.91" y="616.14" font-size="30" stroke="#141414" stroke-width="0.55" stroke-linejoin="round" textLength="11.76" lengthAdjust="spacingAndGlyphs" fill="#141414">*</text>
<line x1="1018.8" y1="745.6" x2="1104.2" y2="652.3" stroke="#444" stroke-width="1.1"/>
<line x1="1018.8" y1="883.3" x2="1104.2" y2="863.7" stroke="#444" stroke-width="1.1"/>
<line x1="1018.8" y1="923.8" x2="1104.2" y2="818.2" stroke="#444" stroke-width="1.1"/>
<line x1="1018.8" y1="925.1" x2="1104.2" y2="852.6" stroke="#444" stroke-width="1.1"/>
<line x1="1018.8" y1="942.3" x2="1104.2" y2="912.8" stroke="#444" stroke-width="1.1"/>
<line x1="1018.8" y1="955.8" x2="1104.2" y2="941.0" stroke="#444" stroke-width="1.1"/>
<circle cx="1018.8" cy="745.6" r="6.4" fill="#111"/>
<circle cx="1018.8" cy="883.3" r="6.4" fill="#111"/>
<circle cx="1018.8" cy="923.8" r="6.4" fill="#111"/>
<circle cx="1018.8" cy="925.1" r="6.4" fill="#111"/>
<circle cx="1018.8" cy="942.3" r="6.4" fill="#111"/>
<circle cx="1018.8" cy="955.8" r="6.4" fill="#111"/>
<circle cx="1104.2" cy="652.3" r="6.05" fill="none" stroke="#111" stroke-width="2.9"/>
<circle cx="1104.2" cy="818.2" r="6.05" fill="none" stroke="#111" stroke-width="2.9"/>
<circle cx="1104.2" cy="852.6" r="6.05" fill="none" stroke="#111" stroke-width="2.9"/>
<circle cx="1104.2" cy="863.7" r="6.05" fill="none" stroke="#111" stroke-width="2.9"/>
<circle cx="1104.2" cy="912.8" r="6.05" fill="none" stroke="#111" stroke-width="2.9"/>
<circle cx="1104.2" cy="941.0" r="6.05" fill="none" stroke="#111" stroke-width="2.9"/>
<text transform="translate(840.00,884.78) rotate(-90)" x="0" y="0" font-size="27.8" textLength="226.48" lengthAdjust="spacingAndGlyphs" fill="#141414">Macrophage Count</text>
<text transform="translate(872.80,845.92) rotate(-90)" x="0" y="0" font-size="27.5" textLength="148.34" lengthAdjust="spacingAndGlyphs" fill="#141414">per spheroid</text>
<text x="789.21" y="1054.50" font-size="33" textLength="33.28" lengthAdjust="spacingAndGlyphs" fill="#141414">F)</text>
<line x1="961.7" y1="1096.8" x2="961.7" y2="1410.2" stroke="#111" stroke-width="2"/>
<line x1="948.9" y1="1409.2" x2="961.7" y2="1409.2" stroke="#111" stroke-width="2"/>
<text x="932.19" y="1417.51" font-size="23.8" textLength="13.24" lengthAdjust="spacingAndGlyphs" fill="#141414">0</text>
<line x1="948.9" y1="1346.9" x2="961.7" y2="1346.9" stroke="#111" stroke-width="2"/>
<text x="892.48" y="1355.23" font-size="23.8" textLength="52.95" lengthAdjust="spacingAndGlyphs" fill="#141414">2000</text>
<line x1="948.9" y1="1284.6" x2="961.7" y2="1284.6" stroke="#111" stroke-width="2"/>
<text x="892.48" y="1292.95" font-size="23.8" textLength="52.95" lengthAdjust="spacingAndGlyphs" fill="#141414">4000</text>
<line x1="948.9" y1="1222.4" x2="961.7" y2="1222.4" stroke="#111" stroke-width="2"/>
<text x="892.48" y="1230.67" font-size="23.8" textLength="52.95" lengthAdjust="spacingAndGlyphs" fill="#141414">6000</text>
<line x1="948.9" y1="1160.1" x2="961.7" y2="1160.1" stroke="#111" stroke-width="2"/>
<text x="892.48" y="1168.39" font-size="23.8" textLength="52.95" lengthAdjust="spacingAndGlyphs" fill="#141414">8000</text>
<line x1="948.9" y1="1097.8" x2="961.7" y2="1097.8" stroke="#111" stroke-width="2"/>
<text x="879.25" y="1106.11" font-size="23.8" textLength="66.18" lengthAdjust="spacingAndGlyphs" fill="#141414">10000</text>
<line x1="961.7" y1="1409.2" x2="1154.3" y2="1409.2" stroke="#111" stroke-width="2"/>
<line x1="1016.6" y1="1409.2" x2="1016.6" y2="1421.4" stroke="#111" stroke-width="2.5"/>
<line x1="1099.1" y1="1409.2" x2="1099.1" y2="1421.4" stroke="#111" stroke-width="2.5"/>
<text x="970.20" y="1447.00" font-size="22.5" textLength="75.97" lengthAdjust="spacingAndGlyphs" fill="#141414">isotype</text>
<text x="1057.58" y="1447.00" font-size="22" font-family="Liberation Serif, serif" textLength="16.73" lengthAdjust="spacingAndGlyphs" fill="#141414">α</text>
<text x="1074.31" y="1447.00" font-size="23.8" textLength="72.92" lengthAdjust="spacingAndGlyphs" fill="#141414">CD276</text>
<line x1="1016.6" y1="1138.3" x2="1099.1" y2="1220.8" stroke="#444" stroke-width="1.1"/>
<line x1="1016.6" y1="1157.0" x2="1099.1" y2="1153.9" stroke="#444" stroke-width="1.1"/>
<line x1="1016.6" y1="1160.1" x2="1099.1" y2="1205.2" stroke="#444" stroke-width="1.1"/>
<line x1="1016.6" y1="1188.1" x2="1099.1" y2="1231.7" stroke="#444" stroke-width="1.1"/>
<line x1="1016.6" y1="1225.5" x2="1099.1" y2="1227.0" stroke="#444" stroke-width="1.1"/>
<line x1="1016.6" y1="1255.1" x2="1099.1" y2="1294.0" stroke="#444" stroke-width="1.1"/>
<circle cx="1016.6" cy="1138.3" r="6.3" fill="#111"/>
<circle cx="1016.6" cy="1157.0" r="6.3" fill="#111"/>
<circle cx="1016.6" cy="1160.1" r="6.3" fill="#111"/>
<circle cx="1016.6" cy="1188.1" r="6.3" fill="#111"/>
<circle cx="1016.6" cy="1225.5" r="6.3" fill="#111"/>
<circle cx="1016.6" cy="1255.1" r="6.3" fill="#111"/>
<circle cx="1099.1" cy="1153.9" r="6.0" fill="none" stroke="#111" stroke-width="2.3"/>
<circle cx="1099.1" cy="1205.2" r="6.0" fill="none" stroke="#111" stroke-width="2.3"/>
<circle cx="1099.1" cy="1219.2" r="6.0" fill="none" stroke="#111" stroke-width="2.3"/>
<circle cx="1099.1" cy="1227.0" r="6.0" fill="none" stroke="#111" stroke-width="2.3"/>
<circle cx="1099.1" cy="1233.3" r="6.0" fill="none" stroke="#111" stroke-width="2.3"/>
<circle cx="1099.1" cy="1294.0" r="6.0" fill="none" stroke="#111" stroke-width="2.3"/>
<text transform="translate(862.90,1336.80) rotate(-90)" x="0" y="0" font-size="28" textLength="150.41" lengthAdjust="spacingAndGlyphs" fill="#141414">PAI-1  (pg/ml)</text>
<text x="1216.83" y="621.30" font-size="32.5" textLength="39.05" lengthAdjust="spacingAndGlyphs" fill="#141414">G)</text>
<text x="1596.41" y="571.60" font-size="25.5" textLength="161.55" lengthAdjust="spacingAndGlyphs" fill="#141414">Macrophages</text>
<line x1="1583.1" y1="579.7" x2="1761.9" y2="579.7" stroke="#111" stroke-width="2.3"/>
<line x1="1362.3" y1="616.7" x2="1406.3" y2="616.7" stroke="#111" stroke-width="2.2" stroke-dasharray="1.8,1.5"/>
<text x="1412.05" y="622.50" font-size="20.5" textLength="68.51" lengthAdjust="spacingAndGlyphs" fill="#141414">isotype</text>
<line x1="1501.8" y1="618.2" x2="1547.2" y2="618.2" stroke="#111" stroke-width="2"/>
<text x="1552.44" y="623.40" font-size="20" font-family="Liberation Serif, serif" textLength="14.59" lengthAdjust="spacingAndGlyphs" fill="#141414">α</text>
<text x="1566.81" y="623.40" font-size="21.5" textLength="66.63" lengthAdjust="spacingAndGlyphs" fill="#141414">CD276</text>
<rect x="1452.0" y="638.3" width="46.0" height="11.5" fill="#9d9d9d"/>
<text x="1501.80" y="651.50" font-size="22" textLength="93.28" lengthAdjust="spacingAndGlyphs" fill="#141414">unstained</text>
<rect x="1366.6" y="664.9" width="265.1" height="263.5" fill="#fff" stroke="#a3a3a3" stroke-width="1.1"/>
<line x1="1394.5" y1="665.9" x2="1394.5" y2="927.4" stroke="#c8c8c8" stroke-width="1"/>
<line x1="1447.8" y1="665.9" x2="1447.8" y2="927.4" stroke="#c8c8c8" stroke-width="1"/>
<line x1="1501.1" y1="665.9" x2="1501.1" y2="927.4" stroke="#c8c8c8" stroke-width="1"/>
<line x1="1554.4" y1="665.9" x2="1554.4" y2="927.4" stroke="#c8c8c8" stroke-width="1"/>
<line x1="1607.7" y1="665.9" x2="1607.7" y2="927.4" stroke="#c8c8c8" stroke-width="1"/>
<path d="M1367.3,927.6 C1367.4,925.5 1367.6,915.0 1368.0,914.4 C1368.4,913.8 1369.1,922.9 1369.7,924.0 C1370.4,925.2 1371.0,922.8 1372.1,921.6 C1373.3,920.5 1375.6,917.5 1376.9,916.8 C1378.3,916.1 1379.0,917.3 1380.5,917.3 C1382.1,917.3 1384.6,918.6 1386.5,916.8 C1388.5,915.0 1391.0,908.3 1392.5,906.0 C1394.1,903.7 1394.4,904.1 1396.2,902.4 C1397.9,900.7 1401.8,896.3 1403.4,895.2 C1404.9,894.0 1404.6,897.5 1405.8,895.2 C1406.9,892.9 1409.2,886.2 1410.6,880.8 C1411.9,875.4 1413.0,865.8 1414.2,861.5 C1415.3,857.3 1416.8,858.2 1417.8,854.3 C1418.7,850.5 1419.2,840.6 1420.2,837.5 C1421.2,834.4 1422.6,838.9 1423.8,835.1 C1425.0,831.2 1426.2,821.5 1427.4,813.5 C1428.6,805.4 1430.0,793.1 1431.0,784.6 C1432.0,776.2 1432.6,763.7 1433.4,760.6 C1434.2,757.5 1435.0,767.7 1435.8,765.4 C1436.6,763.1 1437.5,753.1 1438.2,746.2 C1439.0,739.2 1439.9,726.7 1440.6,722.1 C1441.4,717.5 1442.1,719.2 1443.0,717.3 C1444.0,715.4 1445.7,710.5 1446.6,710.1 C1447.6,709.7 1448.3,711.4 1449.0,714.9 C1449.8,718.4 1450.7,728.8 1451.4,731.7 C1452.2,734.6 1453.1,731.8 1453.8,732.9 C1454.6,734.1 1455.3,733.0 1456.2,738.9 C1457.2,744.9 1458.7,760.6 1459.9,770.2 C1461.0,779.8 1462.1,787.5 1463.5,799.0 C1464.8,810.6 1466.9,829.6 1468.3,842.3 C1469.6,855.0 1470.7,868.4 1471.9,878.4 C1473.0,888.4 1474.1,898.7 1475.5,904.8 C1476.8,911.0 1478.8,913.8 1480.3,916.8 C1481.8,919.9 1483.2,922.3 1485.1,924.0 C1487.0,925.8 1491.2,927.1 1492.3,927.6 L1492.3,928.2 L1367.3,928.2 Z" fill="#c9c9c9" stroke="#8c8c8c" stroke-width="1.4"/>
<line x1="1394.5" y1="665.9" x2="1394.5" y2="927.4" stroke="#a8a8a8" stroke-width="1" opacity="0.6"/>
<line x1="1447.8" y1="665.9" x2="1447.8" y2="927.4" stroke="#a8a8a8" stroke-width="1" opacity="0.6"/>
<line x1="1366.6" y1="673.2" x2="1366.6" y2="928.9" stroke="#4a4a4a" stroke-width="1.7"/>
<line x1="1365.6" y1="928.4" x2="1631.7" y2="928.4" stroke="#444" stroke-width="1.5"/>
<line x1="1368.1" y1="928.1" x2="1630.7" y2="928.1" stroke="#151515" stroke-width="2.8" stroke-dasharray="2.3,2.2"/>
<path d="M1516.3,927.6 C1517.9,927.1 1523.3,926.2 1526.0,924.0 C1528.7,921.9 1531.2,918.3 1533.2,914.4 C1535.1,910.6 1536.4,907.7 1538.0,900.0 C1539.5,892.3 1541.2,881.7 1542.8,866.3 C1544.3,851.0 1546.2,823.1 1547.6,803.8 C1548.9,784.6 1550.0,763.1 1551.2,746.2 C1552.4,729.2 1553.5,708.1 1554.8,698.1 C1556.1,688.1 1558.0,683.7 1559.1,683.7 C1560.3,683.7 1561.2,690.0 1562.0,698.1 C1562.9,706.2 1563.5,718.8 1564.4,734.1 C1565.4,749.5 1566.9,773.8 1568.0,794.2 C1569.2,814.6 1570.5,845.8 1571.6,861.5 C1572.8,877.3 1574.1,885.9 1575.2,892.8 C1576.4,899.7 1577.5,901.3 1578.8,904.8 C1580.2,908.3 1581.7,911.3 1583.7,914.4 C1585.6,917.5 1588.6,921.9 1590.9,924.0 C1593.2,926.2 1596.9,927.1 1598.1,927.6" fill="none" stroke="#111" stroke-width="1.5"/>
<path d="M1521.2,927.6 C1522.3,927.1 1525.7,925.8 1528.4,924.0 C1531.1,922.3 1535.3,920.7 1538.0,916.8 C1540.7,913.0 1543.3,908.1 1545.2,900.0 C1547.1,891.9 1548.5,879.4 1550.0,866.3 C1551.5,853.3 1553.3,833.7 1554.8,818.3 C1556.3,802.9 1558.3,782.5 1559.6,770.2 C1561.0,757.9 1562.3,749.0 1563.2,741.3 C1564.2,733.7 1564.7,728.1 1565.6,722.1 C1566.6,716.2 1568.1,704.1 1569.2,704.1 C1570.4,704.1 1571.7,713.5 1572.8,722.1 C1574.0,730.8 1575.3,745.9 1576.4,758.2 C1577.6,770.5 1578.9,785.6 1580.0,799.0 C1581.2,812.5 1582.3,830.8 1583.7,842.3 C1585.0,853.8 1586.9,862.7 1588.5,871.2 C1590.0,879.6 1591.3,888.3 1593.3,895.2 C1595.2,902.1 1598.2,909.8 1600.5,914.4 C1602.8,919.0 1605.8,921.9 1607.7,924.0 C1609.6,926.2 1611.7,927.1 1612.5,927.6" fill="none" stroke="#111" stroke-width="3.1" stroke-dasharray="2.6,2.0"/>
<line x1="1359.6" y1="928.2" x2="1366.6" y2="928.2" stroke="#222" stroke-width="1.9"/>
<text x="1348.32" y="927.80" font-size="10.6" textLength="5.90" lengthAdjust="spacingAndGlyphs" fill="#333">0</text>
<line x1="1363.0" y1="915.7" x2="1366.6" y2="915.7" stroke="#333" stroke-width="1.4"/>
<line x1="1363.0" y1="903.1" x2="1366.6" y2="903.1" stroke="#333" stroke-width="1.4"/>
<line x1="1363.0" y1="890.6" x2="1366.6" y2="890.6" stroke="#333" stroke-width="1.4"/>
<line x1="1359.6" y1="878.0" x2="1366.6" y2="878.0" stroke="#222" stroke-width="1.9"/>
<text x="1342.42" y="878.60" font-size="10.6" textLength="11.79" lengthAdjust="spacingAndGlyphs" fill="#333">20</text>
<line x1="1363.0" y1="865.5" x2="1366.6" y2="865.5" stroke="#333" stroke-width="1.4"/>
<line x1="1363.0" y1="852.9" x2="1366.6" y2="852.9" stroke="#333" stroke-width="1.4"/>
<line x1="1363.0" y1="840.4" x2="1366.6" y2="840.4" stroke="#333" stroke-width="1.4"/>
<line x1="1359.6" y1="827.8" x2="1366.6" y2="827.8" stroke="#222" stroke-width="1.9"/>
<text x="1342.42" y="829.40" font-size="10.6" textLength="11.79" lengthAdjust="spacingAndGlyphs" fill="#333">40</text>
<line x1="1363.0" y1="815.2" x2="1366.6" y2="815.2" stroke="#333" stroke-width="1.4"/>
<line x1="1363.0" y1="802.7" x2="1366.6" y2="802.7" stroke="#333" stroke-width="1.4"/>
<line x1="1363.0" y1="790.2" x2="1366.6" y2="790.2" stroke="#333" stroke-width="1.4"/>
<line x1="1359.6" y1="777.6" x2="1366.6" y2="777.6" stroke="#222" stroke-width="1.9"/>
<text x="1342.42" y="780.20" font-size="10.6" textLength="11.79" lengthAdjust="spacingAndGlyphs" fill="#333">60</text>
<line x1="1363.0" y1="765.1" x2="1366.6" y2="765.1" stroke="#333" stroke-width="1.4"/>
<line x1="1363.0" y1="752.5" x2="1366.6" y2="752.5" stroke="#333" stroke-width="1.4"/>
<line x1="1363.0" y1="740.0" x2="1366.6" y2="740.0" stroke="#333" stroke-width="1.4"/>
<line x1="1359.6" y1="727.4" x2="1366.6" y2="727.4" stroke="#222" stroke-width="1.9"/>
<text x="1342.42" y="731.00" font-size="10.6" textLength="11.79" lengthAdjust="spacingAndGlyphs" fill="#333">80</text>
<line x1="1363.0" y1="714.9" x2="1366.6" y2="714.9" stroke="#333" stroke-width="1.4"/>
<line x1="1363.0" y1="702.3" x2="1366.6" y2="702.3" stroke="#333" stroke-width="1.4"/>
<line x1="1363.0" y1="689.8" x2="1366.6" y2="689.8" stroke="#333" stroke-width="1.4"/>
<line x1="1359.6" y1="677.2" x2="1366.6" y2="677.2" stroke="#222" stroke-width="1.9"/>
<text x="1336.53" y="681.80" font-size="10.6" textLength="17.69" lengthAdjust="spacingAndGlyphs" fill="#333">100</text>
<line x1="1366.6" y1="928.4" x2="1366.6" y2="931.8" stroke="#222" stroke-width="1.3"/>
<line x1="1373.3" y1="928.4" x2="1373.3" y2="931.8" stroke="#222" stroke-width="1.3"/>
<line x1="1378.5" y1="928.4" x2="1378.5" y2="934.2" stroke="#222" stroke-width="1.6"/>
<line x1="1382.7" y1="928.4" x2="1382.7" y2="931.8" stroke="#222" stroke-width="1.3"/>
<line x1="1386.2" y1="928.4" x2="1386.2" y2="931.8" stroke="#222" stroke-width="1.3"/>
<line x1="1389.3" y1="928.4" x2="1389.3" y2="931.8" stroke="#222" stroke-width="1.3"/>
<line x1="1392.1" y1="928.4" x2="1392.1" y2="931.8" stroke="#222" stroke-width="1.3"/>
<line x1="1394.5" y1="928.4" x2="1394.5" y2="936.2" stroke="#222" stroke-width="1.9"/>
<line x1="1410.5" y1="928.4" x2="1410.5" y2="931.8" stroke="#222" stroke-width="1.3"/>
<line x1="1419.9" y1="928.4" x2="1419.9" y2="931.8" stroke="#222" stroke-width="1.3"/>
<line x1="1426.6" y1="928.4" x2="1426.6" y2="931.8" stroke="#222" stroke-width="1.3"/>
<line x1="1431.8" y1="928.4" x2="1431.8" y2="934.2" stroke="#222" stroke-width="1.6"/>
<line x1="1436.0" y1="928.4" x2="1436.0" y2="931.8" stroke="#222" stroke-width="1.3"/>
<line x1="1439.5" y1="928.4" x2="1439.5" y2="931.8" stroke="#222" stroke-width="1.3"/>
<line x1="1442.6" y1="928.4" x2="1442.6" y2="931.8" stroke="#222" stroke-width="1.3"/>
<line x1="1445.4" y1="928.4" x2="1445.4" y2="931.8" stroke="#222" stroke-width="1.3"/>
<line x1="1447.8" y1="928.4" x2="1447.8" y2="936.2" stroke="#222" stroke-width="1.9"/>
<line x1="1463.8" y1="928.4" x2="1463.8" y2="931.8" stroke="#222" stroke-width="1.3"/>
<line x1="1473.2" y1="928.4" x2="1473.2" y2="931.8" stroke="#222" stroke-width="1.3"/>
<line x1="1479.9" y1="928.4" x2="1479.9" y2="931.8" stroke="#222" stroke-width="1.3"/>
<line x1="1485.1" y1="928.4" x2="1485.1" y2="934.2" stroke="#222" stroke-width="1.6"/>
<line x1="1489.3" y1="928.4" x2="1489.3" y2="931.8" stroke="#222" stroke-width="1.3"/>
<line x1="1492.8" y1="928.4" x2="1492.8" y2="931.8" stroke="#222" stroke-width="1.3"/>
<line x1="1495.9" y1="928.4" x2="1495.9" y2="931.8" stroke="#222" stroke-width="1.3"/>
<line x1="1498.7" y1="928.4" x2="1498.7" y2="931.8" stroke="#222" stroke-width="1.3"/>
<line x1="1501.1" y1="928.4" x2="1501.1" y2="936.2" stroke="#222" stroke-width="1.9"/>
<line x1="1517.1" y1="928.4" x2="1517.1" y2="931.8" stroke="#222" stroke-width="1.3"/>
<line x1="1526.5" y1="928.4" x2="1526.5" y2="931.8" stroke="#222" stroke-width="1.3"/>
<line x1="1533.2" y1="928.4" x2="1533.2" y2="931.8" stroke="#222" stroke-width="1.3"/>
<line x1="1538.4" y1="928.4" x2="1538.4" y2="934.2" stroke="#222" stroke-width="1.6"/>
<line x1="1542.6" y1="928.4" x2="1542.6" y2="931.8" stroke="#222" stroke-width="1.3"/>
<line x1="1546.1" y1="928.4" x2="1546.1" y2="931.8" stroke="#222" stroke-width="1.3"/>
<line x1="1549.2" y1="928.4" x2="1549.2" y2="931.8" stroke="#222" stroke-width="1.3"/>
<line x1="1552.0" y1="928.4" x2="1552.0" y2="931.8" stroke="#222" stroke-width="1.3"/>
<line x1="1554.4" y1="928.4" x2="1554.4" y2="936.2" stroke="#222" stroke-width="1.9"/>
<line x1="1570.4" y1="928.4" x2="1570.4" y2="931.8" stroke="#222" stroke-width="1.3"/>
<line x1="1579.8" y1="928.4" x2="1579.8" y2="931.8" stroke="#222" stroke-width="1.3"/>
<line x1="1586.5" y1="928.4" x2="1586.5" y2="931.8" stroke="#222" stroke-width="1.3"/>
<line x1="1591.7" y1="928.4" x2="1591.7" y2="934.2" stroke="#222" stroke-width="1.6"/>
<line x1="1595.9" y1="928.4" x2="1595.9" y2="931.8" stroke="#222" stroke-width="1.3"/>
<line x1="1599.4" y1="928.4" x2="1599.4" y2="931.8" stroke="#222" stroke-width="1.3"/>
<line x1="1602.5" y1="928.4" x2="1602.5" y2="931.8" stroke="#222" stroke-width="1.3"/>
<line x1="1605.3" y1="928.4" x2="1605.3" y2="931.8" stroke="#222" stroke-width="1.3"/>
<line x1="1607.7" y1="928.4" x2="1607.7" y2="936.2" stroke="#222" stroke-width="1.9"/>
<line x1="1623.7" y1="928.4" x2="1623.7" y2="931.8" stroke="#222" stroke-width="1.3"/>
<text x="1393.54" y="954.40" font-size="10.3" textLength="11.04" lengthAdjust="spacingAndGlyphs" fill="#333">10</text>
<text x="1406.12" y="946.40" font-size="10.3" textLength="5.73" lengthAdjust="spacingAndGlyphs" fill="#333">1</text>
<text x="1446.84" y="954.40" font-size="10.3" textLength="11.04" lengthAdjust="spacingAndGlyphs" fill="#333">10</text>
<text x="1459.68" y="946.40" font-size="10.3" textLength="5.73" lengthAdjust="spacingAndGlyphs" fill="#333">2</text>
<text x="1500.14" y="954.40" font-size="10.3" textLength="11.04" lengthAdjust="spacingAndGlyphs" fill="#333">10</text>
<text x="1513.11" y="946.40" font-size="10.3" textLength="5.73" lengthAdjust="spacingAndGlyphs" fill="#333">3</text>
<text x="1553.44" y="954.40" font-size="10.3" textLength="11.04" lengthAdjust="spacingAndGlyphs" fill="#333">10</text>
<text x="1566.56" y="946.40" font-size="10.3" textLength="5.73" lengthAdjust="spacingAndGlyphs" fill="#333">4</text>
<text x="1606.74" y="954.40" font-size="10.3" textLength="11.04" lengthAdjust="spacingAndGlyphs" fill="#333">10</text>
<text x="1619.69" y="946.40" font-size="10.3" textLength="5.73" lengthAdjust="spacingAndGlyphs" fill="#333">5</text>
<text x="1448.0" y="984.1" font-size="23.5" text-anchor="start" fill="#141414">CD276</text>
<text transform="translate(1324.00,889.73) rotate(-90)" x="0" y="0" font-size="22" textLength="196.17" lengthAdjust="spacingAndGlyphs" fill="#141414">Normalized To Mode</text>
<line x1="1795.1" y1="664.9" x2="1795.1" y2="931.4" stroke="#111" stroke-width="2"/>
<line x1="1784.9" y1="930.4" x2="1795.1" y2="930.4" stroke="#111" stroke-width="2"/>
<text x="1771.62" y="936.26" font-size="16.8" textLength="10.09" lengthAdjust="spacingAndGlyphs" fill="#141414">0</text>
<line x1="1784.9" y1="864.3" x2="1795.1" y2="864.3" stroke="#111" stroke-width="2"/>
<text x="1731.25" y="870.16" font-size="16.8" textLength="50.45" lengthAdjust="spacingAndGlyphs" fill="#141414">10000</text>
<line x1="1784.9" y1="798.2" x2="1795.1" y2="798.2" stroke="#111" stroke-width="2"/>
<text x="1731.25" y="804.06" font-size="16.8" textLength="50.45" lengthAdjust="spacingAndGlyphs" fill="#141414">20000</text>
<line x1="1784.9" y1="732.1" x2="1795.1" y2="732.1" stroke="#111" stroke-width="2"/>
<text x="1731.25" y="737.96" font-size="16.8" textLength="50.45" lengthAdjust="spacingAndGlyphs" fill="#141414">30000</text>
<line x1="1784.9" y1="666.0" x2="1795.1" y2="666.0" stroke="#111" stroke-width="2"/>
<text x="1731.25" y="671.86" font-size="16.8" textLength="50.45" lengthAdjust="spacingAndGlyphs" fill="#141414">40000</text>
<line x1="1795.1" y1="930.4" x2="1959.5" y2="930.4" stroke="#111" stroke-width="2.2"/>
<line x1="1842.2" y1="930.4" x2="1842.2" y2="941.3" stroke="#111" stroke-width="2.5"/>
<line x1="1912.5" y1="930.4" x2="1912.5" y2="941.3" stroke="#111" stroke-width="2.5"/>
<text x="1778.65" y="967.40" font-size="25" textLength="82.91" lengthAdjust="spacingAndGlyphs" fill="#141414">isotype</text>
<text x="1874.39" y="967.40" font-size="25" font-family="Liberation Serif, serif" textLength="16.62" lengthAdjust="spacingAndGlyphs" fill="#141414">α</text>
<text x="1890.76" y="967.40" font-size="26.3" textLength="81.89" lengthAdjust="spacingAndGlyphs" fill="#141414">CD276</text>
<line x1="1840.4" y1="694.2" x2="1918.2" y2="694.2" stroke="#111" stroke-width="3.4"/>
<rect x="1840.4" y="688.1" width="3.6" height="12.2" fill="#111"/>
<rect x="1914.6" y="688.1" width="3.6" height="12.2" fill="#111"/>
<text x="1872.89" y="697.11" font-size="25.6" stroke="#141414" stroke-width="0.55" stroke-linejoin="round" textLength="9.91" lengthAdjust="spacingAndGlyphs" fill="#141414">*</text>
<circle cx="1842.2" cy="731.2" r="5.4" fill="#111"/>
<circle cx="1842.2" cy="756.6" r="5.4" fill="#111"/>
<circle cx="1831.4" cy="787.2" r="5.4" fill="#111"/>
<circle cx="1853.4" cy="783.3" r="5.4" fill="#111"/>
<circle cx="1853.4" cy="812.8" r="5.4" fill="#111"/>
<circle cx="1831.8" cy="822.3" r="5.4" fill="#111"/>
<line x1="1819.6" y1="784.9" x2="1865.8" y2="784.9" stroke="#111" stroke-width="2.2"/>
<rect x="1907.9" y="780.9" width="10.2" height="10.2" fill="#111"/>
<rect x="1897.0" y="809.7" width="10.2" height="10.2" fill="#111"/>
<rect x="1918.5" y="816.5" width="10.2" height="10.2" fill="#111"/>
<rect x="1897.0" y="828.5" width="10.2" height="10.2" fill="#111"/>
<rect x="1918.5" y="833.7" width="10.2" height="10.2" fill="#111"/>
<rect x="1907.9" y="850.1" width="10.2" height="10.2" fill="#111"/>
<line x1="1889.2" y1="827.3" x2="1936.1" y2="827.3" stroke="#111" stroke-width="2.2"/>
<line x1="1875.6" y1="847.7" x2="1920.9" y2="847.7" stroke="#111" stroke-width="2.2"/>
<text transform="translate(1679.00,832.60) rotate(-90)" x="0" y="0" font-size="24.3" textLength="73.64" lengthAdjust="spacingAndGlyphs" fill="#141414">CD276</text>
<text transform="translate(1704.40,910.36) rotate(-90)" x="0" y="0" font-size="24" textLength="240.34" lengthAdjust="spacingAndGlyphs" fill="#141414">MFI (Geometric Mean)</text>
<text x="1610.71" y="1026.40" font-size="26" textLength="135.33" lengthAdjust="spacingAndGlyphs" fill="#141414">Tumor cells</text>
<line x1="1588.5" y1="1036.6" x2="1767.4" y2="1036.6" stroke="#111" stroke-width="2.3"/>
<line x1="1363.0" y1="1068.3" x2="1405.9" y2="1068.3" stroke="#111" stroke-width="2.2" stroke-dasharray="1.8,1.5"/>
<text x="1411.85" y="1074.10" font-size="21.3" textLength="68.61" lengthAdjust="spacingAndGlyphs" fill="#141414">isotype</text>
<line x1="1501.1" y1="1069.8" x2="1547.3" y2="1069.8" stroke="#111" stroke-width="2"/>
<text x="1552.76" y="1074.80" font-size="20" font-family="Liberation Serif, serif" textLength="14.25" lengthAdjust="spacingAndGlyphs" fill="#141414">α</text>
<text x="1566.41" y="1074.80" font-size="21.3" textLength="66.83" lengthAdjust="spacingAndGlyphs" fill="#141414">CD276</text>
<rect x="1439.6" y="1098.4" width="46.4" height="11.1" fill="#9d9d9d"/>
<text x="1493.12" y="1111.40" font-size="20.5" textLength="66.01" lengthAdjust="spacingAndGlyphs" fill="#141414">CD276</text>
<text x="1558.89" y="1104.50" font-size="11.3" font-style="italic" textLength="19.18" lengthAdjust="spacingAndGlyphs" fill="#141414">KO</text>
<rect x="1365.4" y="1122.4" width="272.0" height="271.7" fill="#fff" stroke="#a3a3a3" stroke-width="1.1"/>
<line x1="1393.8" y1="1123.4" x2="1393.8" y2="1393.1" stroke="#c8c8c8" stroke-width="1"/>
<line x1="1448.6" y1="1123.4" x2="1448.6" y2="1393.1" stroke="#c8c8c8" stroke-width="1"/>
<line x1="1503.5" y1="1123.4" x2="1503.5" y2="1393.1" stroke="#c8c8c8" stroke-width="1"/>
<line x1="1558.3" y1="1123.4" x2="1558.3" y2="1393.1" stroke="#c8c8c8" stroke-width="1"/>
<line x1="1613.2" y1="1123.4" x2="1613.2" y2="1393.1" stroke="#c8c8c8" stroke-width="1"/>
<path d="M1366.0,1393.4 C1366.1,1388.0 1365.7,1367.2 1366.5,1359.5 C1367.4,1351.7 1369.8,1350.2 1371.3,1345.2 C1372.8,1340.3 1374.7,1332.3 1376.0,1328.6 C1377.4,1324.9 1378.5,1323.3 1379.6,1322.2 C1380.7,1321.0 1382.0,1323.5 1383.2,1321.5 C1384.3,1319.4 1385.7,1313.4 1386.7,1309.6 C1387.8,1305.8 1388.9,1300.2 1389.8,1297.7 C1390.8,1295.2 1391.9,1296.0 1392.7,1294.1 C1393.4,1292.2 1394.0,1289.4 1394.6,1285.8 C1395.1,1282.2 1395.5,1277.6 1396.2,1271.6 C1397.0,1265.5 1398.4,1252.0 1399.3,1247.8 C1400.3,1243.6 1401.3,1247.7 1402.2,1245.4 C1403.0,1243.1 1403.6,1240.2 1404.5,1233.5 C1405.5,1226.9 1407.2,1207.6 1408.1,1203.8 C1409.1,1200.0 1409.8,1207.3 1410.5,1209.8 C1411.1,1212.3 1411.5,1220.8 1412.1,1219.3 C1412.8,1217.8 1413.8,1208.3 1414.5,1200.3 C1415.3,1192.3 1416.2,1171.7 1416.9,1169.4 C1417.6,1167.1 1418.2,1182.2 1418.8,1186.0 C1419.4,1189.8 1420.1,1192.6 1420.7,1193.2 C1421.3,1193.7 1421.7,1189.8 1422.4,1189.6 C1423.0,1189.4 1424.0,1191.3 1424.7,1192.0 C1425.5,1192.6 1426.3,1193.8 1427.1,1193.6 C1427.9,1193.4 1428.7,1189.7 1429.5,1190.8 C1430.2,1191.8 1431.1,1191.9 1431.9,1200.3 C1432.6,1208.6 1433.3,1233.2 1434.2,1243.0 C1435.2,1252.9 1436.7,1253.7 1437.8,1262.1 C1438.9,1270.4 1440.2,1285.4 1441.4,1295.3 C1442.5,1305.2 1443.8,1315.1 1444.9,1323.8 C1446.1,1332.6 1447.4,1343.9 1448.5,1350.0 C1449.6,1356.0 1450.7,1358.4 1452.1,1361.8 C1453.4,1365.3 1454.9,1368.7 1456.8,1371.3 C1458.7,1374.0 1461.8,1377.0 1463.9,1378.5 C1466.0,1380.0 1468.2,1379.7 1469.9,1380.8 C1471.6,1382.0 1473.1,1385.0 1474.6,1385.6 C1476.1,1386.2 1478.0,1384.9 1479.4,1384.4 C1480.7,1384.0 1481.8,1382.6 1482.9,1382.7 C1484.1,1382.9 1485.4,1384.4 1486.5,1385.6 C1487.6,1386.8 1488.7,1389.2 1490.1,1390.4 C1491.4,1391.5 1492.5,1392.2 1494.8,1392.7 C1497.1,1393.3 1502.8,1393.7 1504.3,1393.9 L1504.3,1393.8 L1366.0,1393.8 Z" fill="#c9c9c9" stroke="#8c8c8c" stroke-width="1.4"/>
<line x1="1393.8" y1="1123.4" x2="1393.8" y2="1393.1" stroke="#a8a8a8" stroke-width="1" opacity="0.6"/>
<line x1="1448.6" y1="1123.4" x2="1448.6" y2="1393.1" stroke="#a8a8a8" stroke-width="1" opacity="0.6"/>
<line x1="1365.4" y1="1132.1" x2="1365.4" y2="1394.6" stroke="#4a4a4a" stroke-width="1.7"/>
<line x1="1364.4" y1="1394.1" x2="1637.4" y2="1394.1" stroke="#444" stroke-width="1.5"/>
<line x1="1366.9" y1="1393.8" x2="1636.4" y2="1393.8" stroke="#151515" stroke-width="2.8" stroke-dasharray="2.3,2.2"/>
<path d="M1518.6,1393.9 C1519.3,1393.3 1521.6,1392.1 1523.3,1390.4 C1525.0,1388.6 1527.6,1385.5 1529.3,1383.2 C1531.0,1380.9 1532.3,1379.1 1534.0,1376.1 C1535.7,1373.1 1538.3,1367.6 1540.0,1364.2 C1541.7,1360.8 1543.4,1357.8 1544.7,1354.7 C1546.0,1351.7 1547.1,1347.9 1548.3,1345.2 C1549.4,1342.5 1550.7,1341.3 1551.8,1338.1 C1553.0,1334.9 1554.3,1328.8 1555.4,1325.0 C1556.5,1321.2 1558.0,1318.3 1559.0,1314.3 C1559.9,1310.3 1560.6,1305.4 1561.3,1300.1 C1562.1,1294.7 1563.0,1287.1 1563.7,1281.1 C1564.4,1275.0 1564.9,1270.4 1565.6,1262.1 C1566.4,1253.7 1567.6,1237.2 1568.5,1228.8 C1569.3,1220.4 1570.1,1215.5 1570.8,1209.8 C1571.6,1204.1 1572.5,1199.2 1573.2,1193.2 C1574.0,1187.1 1574.8,1178.2 1575.6,1171.8 C1576.4,1165.3 1577.7,1157.3 1578.5,1152.8 C1579.2,1148.2 1579.7,1144.0 1580.4,1143.3 C1581.0,1142.5 1581.7,1143.8 1582.3,1148.0 C1582.8,1152.2 1583.3,1162.9 1583.9,1169.4 C1584.6,1175.9 1585.5,1181.9 1586.3,1188.4 C1587.1,1194.9 1587.9,1201.0 1588.7,1209.8 C1589.4,1218.5 1590.3,1232.4 1591.0,1243.0 C1591.8,1253.7 1592.7,1265.3 1593.4,1276.3 C1594.2,1287.3 1595.0,1301.7 1595.8,1311.9 C1596.6,1322.2 1597.4,1332.5 1598.2,1340.5 C1598.9,1348.4 1599.6,1355.4 1600.5,1361.8 C1601.5,1368.3 1602.8,1376.1 1604.1,1380.8 C1605.4,1385.6 1607.3,1389.4 1608.9,1391.5 C1610.4,1393.6 1612.9,1393.5 1613.6,1393.9" fill="none" stroke="#111" stroke-width="1.5"/>
<path d="M1521.0,1393.9 C1522.1,1392.6 1525.8,1388.5 1528.1,1385.6 C1530.4,1382.7 1532.9,1379.5 1535.2,1376.1 C1537.5,1372.7 1540.4,1367.6 1542.3,1364.2 C1544.2,1360.8 1545.6,1357.8 1547.1,1354.7 C1548.6,1351.7 1550.1,1348.3 1551.8,1345.2 C1553.6,1342.2 1556.3,1339.1 1557.8,1335.7 C1559.3,1332.3 1560.2,1328.8 1561.3,1323.8 C1562.5,1318.9 1564.0,1310.9 1564.9,1304.8 C1565.9,1298.7 1566.5,1293.4 1567.3,1285.8 C1568.0,1278.2 1568.9,1266.4 1569.7,1257.3 C1570.4,1248.2 1571.3,1237.9 1572.0,1228.8 C1572.8,1219.7 1573.7,1209.0 1574.4,1200.3 C1575.2,1191.5 1576.0,1181.8 1576.8,1174.1 C1577.5,1166.5 1578.5,1157.3 1579.2,1152.8 C1579.8,1148.2 1580.5,1144.9 1581.1,1145.6 C1581.6,1146.4 1582.1,1151.1 1582.7,1157.5 C1583.4,1164.0 1584.3,1177.3 1585.1,1186.0 C1585.9,1194.8 1586.7,1203.0 1587.5,1212.2 C1588.2,1221.3 1589.1,1232.8 1589.9,1243.0 C1590.6,1253.3 1591.5,1265.3 1592.2,1276.3 C1593.0,1287.3 1593.8,1301.7 1594.6,1311.9 C1595.4,1322.2 1596.1,1332.5 1597.0,1340.5 C1597.8,1348.4 1598.8,1355.4 1599.8,1361.8 C1600.9,1368.3 1602.2,1376.0 1603.6,1380.8 C1605.1,1385.7 1607.3,1390.2 1608.9,1392.3 C1610.5,1394.3 1612.9,1393.6 1613.6,1393.9" fill="none" stroke="#111" stroke-width="3.1" stroke-dasharray="2.6,2.0"/>
<line x1="1358.4" y1="1393.8" x2="1365.4" y2="1393.8" stroke="#222" stroke-width="1.9"/>
<text x="1347.12" y="1393.40" font-size="10.6" textLength="5.90" lengthAdjust="spacingAndGlyphs" fill="#333">0</text>
<line x1="1361.8" y1="1380.9" x2="1365.4" y2="1380.9" stroke="#333" stroke-width="1.4"/>
<line x1="1361.8" y1="1368.0" x2="1365.4" y2="1368.0" stroke="#333" stroke-width="1.4"/>
<line x1="1361.8" y1="1355.1" x2="1365.4" y2="1355.1" stroke="#333" stroke-width="1.4"/>
<line x1="1358.4" y1="1342.3" x2="1365.4" y2="1342.3" stroke="#222" stroke-width="1.9"/>
<text x="1341.22" y="1342.86" font-size="10.6" textLength="11.79" lengthAdjust="spacingAndGlyphs" fill="#333">20</text>
<line x1="1361.8" y1="1329.4" x2="1365.4" y2="1329.4" stroke="#333" stroke-width="1.4"/>
<line x1="1361.8" y1="1316.5" x2="1365.4" y2="1316.5" stroke="#333" stroke-width="1.4"/>
<line x1="1361.8" y1="1303.6" x2="1365.4" y2="1303.6" stroke="#333" stroke-width="1.4"/>
<line x1="1358.4" y1="1290.7" x2="1365.4" y2="1290.7" stroke="#222" stroke-width="1.9"/>
<text x="1341.22" y="1292.32" font-size="10.6" textLength="11.79" lengthAdjust="spacingAndGlyphs" fill="#333">40</text>
<line x1="1361.8" y1="1277.8" x2="1365.4" y2="1277.8" stroke="#333" stroke-width="1.4"/>
<line x1="1361.8" y1="1264.9" x2="1365.4" y2="1264.9" stroke="#333" stroke-width="1.4"/>
<line x1="1361.8" y1="1252.1" x2="1365.4" y2="1252.1" stroke="#333" stroke-width="1.4"/>
<line x1="1358.4" y1="1239.2" x2="1365.4" y2="1239.2" stroke="#222" stroke-width="1.9"/>
<text x="1341.22" y="1241.78" font-size="10.6" textLength="11.79" lengthAdjust="spacingAndGlyphs" fill="#333">60</text>
<line x1="1361.8" y1="1226.3" x2="1365.4" y2="1226.3" stroke="#333" stroke-width="1.4"/>
<line x1="1361.8" y1="1213.4" x2="1365.4" y2="1213.4" stroke="#333" stroke-width="1.4"/>
<line x1="1361.8" y1="1200.5" x2="1365.4" y2="1200.5" stroke="#333" stroke-width="1.4"/>
<line x1="1358.4" y1="1187.6" x2="1365.4" y2="1187.6" stroke="#222" stroke-width="1.9"/>
<text x="1341.22" y="1191.24" font-size="10.6" textLength="11.79" lengthAdjust="spacingAndGlyphs" fill="#333">80</text>
<line x1="1361.8" y1="1174.8" x2="1365.4" y2="1174.8" stroke="#333" stroke-width="1.4"/>
<line x1="1361.8" y1="1161.9" x2="1365.4" y2="1161.9" stroke="#333" stroke-width="1.4"/>
<line x1="1361.8" y1="1149.0" x2="1365.4" y2="1149.0" stroke="#333" stroke-width="1.4"/>
<line x1="1358.4" y1="1136.1" x2="1365.4" y2="1136.1" stroke="#222" stroke-width="1.9"/>
<text x="1335.33" y="1140.70" font-size="10.6" textLength="17.69" lengthAdjust="spacingAndGlyphs" fill="#333">100</text>
<line x1="1365.1" y1="1394.1" x2="1365.1" y2="1397.5" stroke="#222" stroke-width="1.3"/>
<line x1="1372.0" y1="1394.1" x2="1372.0" y2="1397.5" stroke="#222" stroke-width="1.3"/>
<line x1="1377.3" y1="1394.1" x2="1377.3" y2="1399.9" stroke="#222" stroke-width="1.6"/>
<line x1="1381.6" y1="1394.1" x2="1381.6" y2="1397.5" stroke="#222" stroke-width="1.3"/>
<line x1="1385.3" y1="1394.1" x2="1385.3" y2="1397.5" stroke="#222" stroke-width="1.3"/>
<line x1="1388.5" y1="1394.1" x2="1388.5" y2="1397.5" stroke="#222" stroke-width="1.3"/>
<line x1="1391.3" y1="1394.1" x2="1391.3" y2="1397.5" stroke="#222" stroke-width="1.3"/>
<line x1="1393.8" y1="1394.1" x2="1393.8" y2="1401.9" stroke="#222" stroke-width="1.9"/>
<line x1="1410.3" y1="1394.1" x2="1410.3" y2="1397.5" stroke="#222" stroke-width="1.3"/>
<line x1="1420.0" y1="1394.1" x2="1420.0" y2="1397.5" stroke="#222" stroke-width="1.3"/>
<line x1="1426.8" y1="1394.1" x2="1426.8" y2="1397.5" stroke="#222" stroke-width="1.3"/>
<line x1="1432.1" y1="1394.1" x2="1432.1" y2="1399.9" stroke="#222" stroke-width="1.6"/>
<line x1="1436.5" y1="1394.1" x2="1436.5" y2="1397.5" stroke="#222" stroke-width="1.3"/>
<line x1="1440.2" y1="1394.1" x2="1440.2" y2="1397.5" stroke="#222" stroke-width="1.3"/>
<line x1="1443.3" y1="1394.1" x2="1443.3" y2="1397.5" stroke="#222" stroke-width="1.3"/>
<line x1="1446.1" y1="1394.1" x2="1446.1" y2="1397.5" stroke="#222" stroke-width="1.3"/>
<line x1="1448.6" y1="1394.1" x2="1448.6" y2="1401.9" stroke="#222" stroke-width="1.9"/>
<line x1="1465.2" y1="1394.1" x2="1465.2" y2="1397.5" stroke="#222" stroke-width="1.3"/>
<line x1="1474.8" y1="1394.1" x2="1474.8" y2="1397.5" stroke="#222" stroke-width="1.3"/>
<line x1="1481.7" y1="1394.1" x2="1481.7" y2="1397.5" stroke="#222" stroke-width="1.3"/>
<line x1="1487.0" y1="1394.1" x2="1487.0" y2="1399.9" stroke="#222" stroke-width="1.6"/>
<line x1="1491.3" y1="1394.1" x2="1491.3" y2="1397.5" stroke="#222" stroke-width="1.3"/>
<line x1="1495.0" y1="1394.1" x2="1495.0" y2="1397.5" stroke="#222" stroke-width="1.3"/>
<line x1="1498.2" y1="1394.1" x2="1498.2" y2="1397.5" stroke="#222" stroke-width="1.3"/>
<line x1="1501.0" y1="1394.1" x2="1501.0" y2="1397.5" stroke="#222" stroke-width="1.3"/>
<line x1="1503.5" y1="1394.1" x2="1503.5" y2="1401.9" stroke="#222" stroke-width="1.9"/>
<line x1="1520.0" y1="1394.1" x2="1520.0" y2="1397.5" stroke="#222" stroke-width="1.3"/>
<line x1="1529.7" y1="1394.1" x2="1529.7" y2="1397.5" stroke="#222" stroke-width="1.3"/>
<line x1="1536.5" y1="1394.1" x2="1536.5" y2="1397.5" stroke="#222" stroke-width="1.3"/>
<line x1="1541.8" y1="1394.1" x2="1541.8" y2="1399.9" stroke="#222" stroke-width="1.6"/>
<line x1="1546.2" y1="1394.1" x2="1546.2" y2="1397.5" stroke="#222" stroke-width="1.3"/>
<line x1="1549.9" y1="1394.1" x2="1549.9" y2="1397.5" stroke="#222" stroke-width="1.3"/>
<line x1="1553.0" y1="1394.1" x2="1553.0" y2="1397.5" stroke="#222" stroke-width="1.3"/>
<line x1="1555.8" y1="1394.1" x2="1555.8" y2="1397.5" stroke="#222" stroke-width="1.3"/>
<line x1="1558.3" y1="1394.1" x2="1558.3" y2="1401.9" stroke="#222" stroke-width="1.9"/>
<line x1="1574.9" y1="1394.1" x2="1574.9" y2="1397.5" stroke="#222" stroke-width="1.3"/>
<line x1="1584.5" y1="1394.1" x2="1584.5" y2="1397.5" stroke="#222" stroke-width="1.3"/>
<line x1="1591.4" y1="1394.1" x2="1591.4" y2="1397.5" stroke="#222" stroke-width="1.3"/>
<line x1="1596.7" y1="1394.1" x2="1596.7" y2="1399.9" stroke="#222" stroke-width="1.6"/>
<line x1="1601.0" y1="1394.1" x2="1601.0" y2="1397.5" stroke="#222" stroke-width="1.3"/>
<line x1="1604.7" y1="1394.1" x2="1604.7" y2="1397.5" stroke="#222" stroke-width="1.3"/>
<line x1="1607.9" y1="1394.1" x2="1607.9" y2="1397.5" stroke="#222" stroke-width="1.3"/>
<line x1="1610.7" y1="1394.1" x2="1610.7" y2="1397.5" stroke="#222" stroke-width="1.3"/>
<line x1="1613.2" y1="1394.1" x2="1613.2" y2="1401.9" stroke="#222" stroke-width="1.9"/>
<line x1="1629.7" y1="1394.1" x2="1629.7" y2="1397.5" stroke="#222" stroke-width="1.3"/>
<text x="1392.84" y="1420.70" font-size="10.3" textLength="11.04" lengthAdjust="spacingAndGlyphs" fill="#333">10</text>
<text x="1405.42" y="1412.70" font-size="10.3" textLength="5.73" lengthAdjust="spacingAndGlyphs" fill="#333">1</text>
<text x="1447.69" y="1420.70" font-size="10.3" textLength="11.04" lengthAdjust="spacingAndGlyphs" fill="#333">10</text>
<text x="1460.53" y="1412.70" font-size="10.3" textLength="5.73" lengthAdjust="spacingAndGlyphs" fill="#333">2</text>
<text x="1502.54" y="1420.70" font-size="10.3" textLength="11.04" lengthAdjust="spacingAndGlyphs" fill="#333">10</text>
<text x="1515.51" y="1412.70" font-size="10.3" textLength="5.73" lengthAdjust="spacingAndGlyphs" fill="#333">3</text>
<text x="1557.39" y="1420.70" font-size="10.3" textLength="11.04" lengthAdjust="spacingAndGlyphs" fill="#333">10</text>
<text x="1570.51" y="1412.70" font-size="10.3" textLength="5.73" lengthAdjust="spacingAndGlyphs" fill="#333">4</text>
<text x="1612.24" y="1420.70" font-size="10.3" textLength="11.04" lengthAdjust="spacingAndGlyphs" fill="#333">10</text>
<text x="1625.19" y="1412.70" font-size="10.3" textLength="5.73" lengthAdjust="spacingAndGlyphs" fill="#333">5</text>
<text x="1439.5" y="1449.9" font-size="23.5" text-anchor="start" fill="#141414">CD276</text>
<text transform="translate(1321.40,1349.32) rotate(-90)" x="0" y="0" font-size="22" textLength="195.16" lengthAdjust="spacingAndGlyphs" fill="#141414">Normalized To Mode</text>
<line x1="1803.0" y1="1106.5" x2="1803.0" y2="1373.6" stroke="#111" stroke-width="2"/>
<line x1="1791.8" y1="1372.6" x2="1803.0" y2="1372.6" stroke="#111" stroke-width="2"/>
<text x="1778.42" y="1378.46" font-size="16.8" textLength="10.09" lengthAdjust="spacingAndGlyphs" fill="#141414">0</text>
<line x1="1791.8" y1="1306.3" x2="1803.0" y2="1306.3" stroke="#111" stroke-width="2"/>
<text x="1738.05" y="1312.16" font-size="16.8" textLength="50.45" lengthAdjust="spacingAndGlyphs" fill="#141414">10000</text>
<line x1="1791.8" y1="1240.0" x2="1803.0" y2="1240.0" stroke="#111" stroke-width="2"/>
<text x="1738.05" y="1245.86" font-size="16.8" textLength="50.45" lengthAdjust="spacingAndGlyphs" fill="#141414">20000</text>
<line x1="1791.8" y1="1173.7" x2="1803.0" y2="1173.7" stroke="#111" stroke-width="2"/>
<text x="1738.05" y="1179.56" font-size="16.8" textLength="50.45" lengthAdjust="spacingAndGlyphs" fill="#141414">30000</text>
<line x1="1791.8" y1="1107.4" x2="1803.0" y2="1107.4" stroke="#111" stroke-width="2"/>
<text x="1738.05" y="1113.26" font-size="16.8" textLength="50.45" lengthAdjust="spacingAndGlyphs" fill="#141414">40000</text>
<line x1="1803.0" y1="1372.6" x2="1959.4" y2="1372.6" stroke="#111" stroke-width="2.2"/>
<line x1="1847.3" y1="1372.6" x2="1847.3" y2="1383.1" stroke="#111" stroke-width="2.5"/>
<line x1="1913.4" y1="1372.6" x2="1913.4" y2="1383.1" stroke="#111" stroke-width="2.5"/>
<text x="1787.24" y="1414.60" font-size="25.5" textLength="83.43" lengthAdjust="spacingAndGlyphs" fill="#141414">isotype</text>
<text x="1882.19" y="1414.60" font-size="26" font-family="Liberation Serif, serif" textLength="17.98" lengthAdjust="spacingAndGlyphs" fill="#141414">α</text>
<text x="1899.68" y="1414.60" font-size="27" textLength="80.76" lengthAdjust="spacingAndGlyphs" fill="#141414">CD276</text>
<line x1="1827.5" y1="1253.5" x2="1868.4" y2="1253.5" stroke="#111" stroke-width="2.2"/>
<circle cx="1829.8" cy="1246.5" r="5.2" fill="#111"/>
<circle cx="1853.2" cy="1243.4" r="5.2" fill="#111"/>
<circle cx="1841.5" cy="1250.7" r="5.2" fill="#111"/>
<circle cx="1829.8" cy="1258.1" r="5.2" fill="#111"/>
<circle cx="1853.2" cy="1257.7" r="5.2" fill="#111"/>
<circle cx="1863.7" cy="1257.0" r="5.2" fill="#111"/>
<rect x="1914.7" y="1238.7" width="10.0" height="10.0" fill="#111"/>
<rect x="1903.1" y="1244.3" width="10.0" height="10.0" fill="#111"/>
<rect x="1903.1" y="1261.8" width="10.0" height="10.0" fill="#111"/>
<rect x="1891.8" y="1268.3" width="10.0" height="10.0" fill="#111"/>
<rect x="1914.3" y="1267.9" width="10.0" height="10.0" fill="#111"/>
<rect x="1925.2" y="1267.2" width="10.0" height="10.0" fill="#111"/>
<text transform="translate(1686.20,1275.60) rotate(-90)" x="0" y="0" font-size="24" textLength="67.45" lengthAdjust="spacingAndGlyphs" fill="#141414">CD276</text>
<text transform="translate(1711.90,1353.42) rotate(-90)" x="0" y="0" font-size="24" textLength="222.79" lengthAdjust="spacingAndGlyphs" fill="#141414">MFI (Geometric Mean)</text>
</svg>
</body></html>
